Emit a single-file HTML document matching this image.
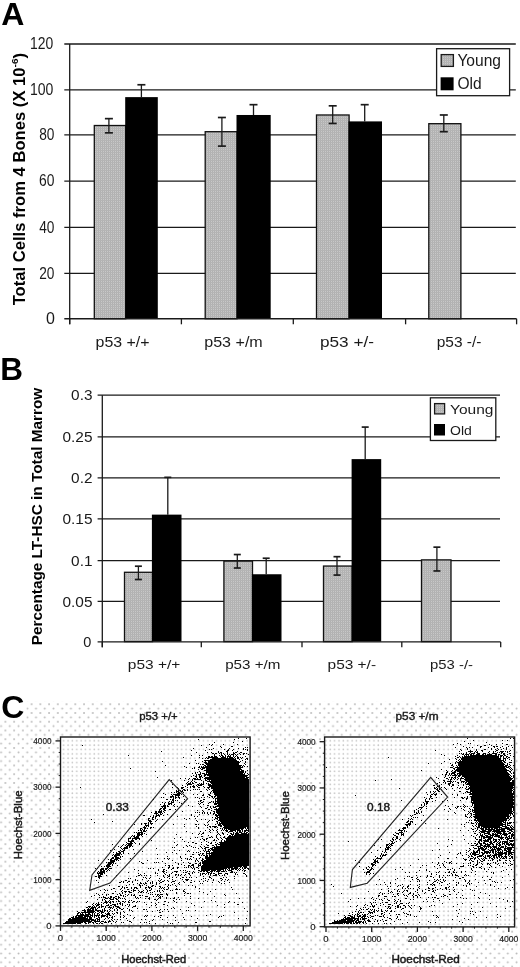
<!DOCTYPE html>
<html><head><meta charset="utf-8"><style>
html,body{margin:0;padding:0;background:#fff;overflow:hidden;}
svg{display:block;filter:blur(0.3px);font-family:"Liberation Sans", sans-serif;}
</style></head><body>
<svg width="520" height="967" viewBox="0 0 520 967">
<defs>
<pattern id="gp" width="2" height="2" patternUnits="userSpaceOnUse"><rect width="2" height="2" fill="#c8c8c8"/><rect width="1" height="2" fill="#b0b0b0"/><rect width="2" height="1" fill="#b4b4b4"/></pattern>
</defs>
<text x="1.20" y="24.80" font-size="32" text-anchor="start" font-weight="bold" fill="#000">A</text>
<text x="0.30" y="380.20" font-size="31.5" text-anchor="start" font-weight="bold" fill="#000">B</text>
<line x1="64.30" y1="273.40" x2="515.80" y2="273.40" stroke="#1a1a1a" stroke-width="1.3"/>
<line x1="64.30" y1="227.40" x2="515.80" y2="227.40" stroke="#1a1a1a" stroke-width="1.3"/>
<line x1="64.30" y1="181.10" x2="515.80" y2="181.10" stroke="#1a1a1a" stroke-width="1.3"/>
<line x1="64.30" y1="134.90" x2="515.80" y2="134.90" stroke="#1a1a1a" stroke-width="1.3"/>
<line x1="64.30" y1="89.90" x2="515.80" y2="89.90" stroke="#1a1a1a" stroke-width="1.3"/>
<line x1="64.30" y1="44.00" x2="515.80" y2="44.00" stroke="#1a1a1a" stroke-width="1.3"/>
<rect x="94.30" y="125.51" width="31.50" height="193.19" fill="url(#gp)" stroke="#111" stroke-width="1.3"/>
<rect x="125.20" y="97.12" width="32.60" height="221.58" fill="#000"/>
<rect x="205.20" y="131.69" width="31.90" height="187.01" fill="url(#gp)" stroke="#111" stroke-width="1.3"/>
<rect x="236.50" y="114.98" width="34.20" height="203.72" fill="#000"/>
<rect x="316.50" y="114.98" width="32.60" height="203.72" fill="url(#gp)" stroke="#111" stroke-width="1.3"/>
<rect x="348.50" y="121.39" width="33.50" height="197.31" fill="#000"/>
<rect x="428.80" y="123.68" width="32.10" height="195.02" fill="url(#gp)" stroke="#111" stroke-width="1.3"/>
<line x1="108.90" y1="118.64" x2="108.90" y2="132.83" stroke="#1a1a1a" stroke-width="1.3"/>
<line x1="104.90" y1="118.64" x2="112.90" y2="118.64" stroke="#1a1a1a" stroke-width="1.6900000000000002"/>
<line x1="104.90" y1="132.83" x2="112.90" y2="132.83" stroke="#1a1a1a" stroke-width="1.6900000000000002"/>
<line x1="141.40" y1="84.76" x2="141.40" y2="97.12" stroke="#1a1a1a" stroke-width="1.3"/>
<line x1="137.40" y1="84.76" x2="145.40" y2="84.76" stroke="#1a1a1a" stroke-width="1.6900000000000002"/>
<line x1="221.90" y1="117.50" x2="221.90" y2="146.11" stroke="#1a1a1a" stroke-width="1.3"/>
<line x1="217.90" y1="117.50" x2="225.90" y2="117.50" stroke="#1a1a1a" stroke-width="1.6900000000000002"/>
<line x1="217.90" y1="146.11" x2="225.90" y2="146.11" stroke="#1a1a1a" stroke-width="1.6900000000000002"/>
<line x1="253.50" y1="104.68" x2="253.50" y2="114.98" stroke="#1a1a1a" stroke-width="1.3"/>
<line x1="249.50" y1="104.68" x2="257.50" y2="104.68" stroke="#1a1a1a" stroke-width="1.6900000000000002"/>
<line x1="332.70" y1="105.82" x2="332.70" y2="123.45" stroke="#1a1a1a" stroke-width="1.3"/>
<line x1="328.70" y1="105.82" x2="336.70" y2="105.82" stroke="#1a1a1a" stroke-width="1.6900000000000002"/>
<line x1="328.70" y1="123.45" x2="336.70" y2="123.45" stroke="#1a1a1a" stroke-width="1.6900000000000002"/>
<line x1="364.70" y1="104.68" x2="364.70" y2="121.39" stroke="#1a1a1a" stroke-width="1.3"/>
<line x1="360.70" y1="104.68" x2="368.70" y2="104.68" stroke="#1a1a1a" stroke-width="1.6900000000000002"/>
<line x1="443.80" y1="114.98" x2="443.80" y2="131.69" stroke="#1a1a1a" stroke-width="1.3"/>
<line x1="439.80" y1="114.98" x2="447.80" y2="114.98" stroke="#1a1a1a" stroke-width="1.6900000000000002"/>
<line x1="439.80" y1="131.69" x2="447.80" y2="131.69" stroke="#1a1a1a" stroke-width="1.6900000000000002"/>
<line x1="69.70" y1="44.00" x2="69.70" y2="324.30" stroke="#1a1a1a" stroke-width="1.3"/>
<line x1="64.30" y1="318.75" x2="516.60" y2="318.75" stroke="#1a1a1a" stroke-width="1.3"/>
<line x1="69.70" y1="318.75" x2="69.70" y2="324.30" stroke="#1a1a1a" stroke-width="1.3"/>
<line x1="181.40" y1="318.75" x2="181.40" y2="324.30" stroke="#1a1a1a" stroke-width="1.3"/>
<line x1="293.30" y1="318.75" x2="293.30" y2="324.30" stroke="#1a1a1a" stroke-width="1.3"/>
<line x1="405.60" y1="318.75" x2="405.60" y2="324.30" stroke="#1a1a1a" stroke-width="1.3"/>
<line x1="516.60" y1="318.75" x2="516.60" y2="324.30" stroke="#1a1a1a" stroke-width="1.3"/>
<text x="55.00" y="324.11" font-size="16" text-anchor="end" font-weight="normal" fill="#1a1a1a">0</text>
<text x="54.40" y="278.76" font-size="16" text-anchor="end" font-weight="normal" fill="#1a1a1a" textLength="15.2" lengthAdjust="spacingAndGlyphs">20</text>
<text x="54.40" y="232.76" font-size="16" text-anchor="end" font-weight="normal" fill="#1a1a1a" textLength="15.2" lengthAdjust="spacingAndGlyphs">40</text>
<text x="54.40" y="186.46" font-size="16" text-anchor="end" font-weight="normal" fill="#1a1a1a" textLength="15.4" lengthAdjust="spacingAndGlyphs">60</text>
<text x="54.40" y="140.26" font-size="16" text-anchor="end" font-weight="normal" fill="#1a1a1a" textLength="15.2" lengthAdjust="spacingAndGlyphs">80</text>
<text x="53.30" y="95.26" font-size="16" text-anchor="end" font-weight="normal" fill="#1a1a1a" textLength="23.4" lengthAdjust="spacingAndGlyphs">100</text>
<text x="53.30" y="49.36" font-size="16" text-anchor="end" font-weight="normal" fill="#1a1a1a" textLength="23.2" lengthAdjust="spacingAndGlyphs">120</text>
<text x="122.60" y="347.20" font-size="15" text-anchor="middle" font-weight="normal" fill="#1a1a1a" textLength="54.0" lengthAdjust="spacingAndGlyphs">p53 +/+</text>
<text x="233.50" y="347.20" font-size="15" text-anchor="middle" font-weight="normal" fill="#1a1a1a" textLength="58.5" lengthAdjust="spacingAndGlyphs">p53 +/m</text>
<text x="347.00" y="347.20" font-size="15" text-anchor="middle" font-weight="normal" fill="#1a1a1a" textLength="54.0" lengthAdjust="spacingAndGlyphs">p53 +/-</text>
<text x="459.10" y="347.20" font-size="15" text-anchor="middle" font-weight="normal" fill="#1a1a1a" textLength="44.7" lengthAdjust="spacingAndGlyphs">p53 -/-</text>
<rect x="436.6" y="48.7" width="73" height="47" fill="#fff" stroke="#1a1a1a" stroke-width="1.3"/>
<rect x="441.2" y="54.6" width="12.2" height="11.8" fill="url(#gp)" stroke="#1a1a1a" stroke-width="1.3"/>
<rect x="440.6" y="77.3" width="13" height="13" fill="#000"/>
<text x="457.40" y="66.10" font-size="16" text-anchor="start" font-weight="normal" fill="#1a1a1a" textLength="43.6" lengthAdjust="spacingAndGlyphs">Young</text>
<text x="457.40" y="89.10" font-size="16" text-anchor="start" font-weight="normal" fill="#1a1a1a" textLength="24.2" lengthAdjust="spacingAndGlyphs">Old</text>
<text x="0" y="0" font-size="15.8" font-weight="bold" fill="#000" transform="translate(25.2 305.3) rotate(-90)" textLength="252.3" lengthAdjust="spacingAndGlyphs">Total Cells from 4 Bones (X 10<tspan font-size="9.5" dy="-7.5">-6</tspan><tspan dy="7.5">)</tspan></text>
<line x1="97.60" y1="601.40" x2="500.00" y2="601.40" stroke="#1a1a1a" stroke-width="1.3"/>
<line x1="97.60" y1="560.70" x2="500.00" y2="560.70" stroke="#1a1a1a" stroke-width="1.3"/>
<line x1="97.60" y1="518.80" x2="500.00" y2="518.80" stroke="#1a1a1a" stroke-width="1.3"/>
<line x1="97.60" y1="477.80" x2="500.00" y2="477.80" stroke="#1a1a1a" stroke-width="1.3"/>
<line x1="97.60" y1="436.90" x2="500.00" y2="436.90" stroke="#1a1a1a" stroke-width="1.3"/>
<line x1="97.60" y1="395.20" x2="500.00" y2="395.20" stroke="#1a1a1a" stroke-width="1.3"/>
<rect x="124.50" y="572.28" width="28.00" height="69.32" fill="url(#gp)" stroke="#111" stroke-width="1.3"/>
<rect x="151.90" y="514.63" width="29.60" height="126.97" fill="#000"/>
<rect x="223.90" y="561.11" width="28.60" height="80.49" fill="url(#gp)" stroke="#111" stroke-width="1.3"/>
<rect x="251.90" y="574.25" width="29.60" height="67.35" fill="#000"/>
<rect x="323.50" y="566.04" width="28.70" height="75.56" fill="url(#gp)" stroke="#111" stroke-width="1.3"/>
<rect x="351.60" y="459.11" width="29.60" height="182.49" fill="#000"/>
<rect x="421.50" y="559.88" width="29.50" height="81.72" fill="url(#gp)" stroke="#111" stroke-width="1.3"/>
<line x1="138.40" y1="566.20" x2="138.40" y2="579.51" stroke="#1a1a1a" stroke-width="1.3"/>
<line x1="134.90" y1="566.20" x2="141.90" y2="566.20" stroke="#1a1a1a" stroke-width="1.6900000000000002"/>
<line x1="134.90" y1="579.51" x2="141.90" y2="579.51" stroke="#1a1a1a" stroke-width="1.6900000000000002"/>
<line x1="167.80" y1="477.34" x2="167.80" y2="514.63" stroke="#1a1a1a" stroke-width="1.3"/>
<line x1="164.30" y1="477.34" x2="171.30" y2="477.34" stroke="#1a1a1a" stroke-width="1.6900000000000002"/>
<line x1="237.30" y1="554.54" x2="237.30" y2="568.01" stroke="#1a1a1a" stroke-width="1.3"/>
<line x1="233.80" y1="554.54" x2="240.80" y2="554.54" stroke="#1a1a1a" stroke-width="1.6900000000000002"/>
<line x1="233.80" y1="568.01" x2="240.80" y2="568.01" stroke="#1a1a1a" stroke-width="1.6900000000000002"/>
<line x1="266.20" y1="558.24" x2="266.20" y2="574.25" stroke="#1a1a1a" stroke-width="1.3"/>
<line x1="262.70" y1="558.24" x2="269.70" y2="558.24" stroke="#1a1a1a" stroke-width="1.6900000000000002"/>
<line x1="337.00" y1="556.68" x2="337.00" y2="575.07" stroke="#1a1a1a" stroke-width="1.3"/>
<line x1="333.50" y1="556.68" x2="340.50" y2="556.68" stroke="#1a1a1a" stroke-width="1.6900000000000002"/>
<line x1="333.50" y1="575.07" x2="340.50" y2="575.07" stroke="#1a1a1a" stroke-width="1.6900000000000002"/>
<line x1="365.20" y1="427.08" x2="365.20" y2="459.11" stroke="#1a1a1a" stroke-width="1.3"/>
<line x1="361.70" y1="427.08" x2="368.70" y2="427.08" stroke="#1a1a1a" stroke-width="1.6900000000000002"/>
<line x1="436.90" y1="547.15" x2="436.90" y2="570.97" stroke="#1a1a1a" stroke-width="1.3"/>
<line x1="433.40" y1="547.15" x2="440.40" y2="547.15" stroke="#1a1a1a" stroke-width="1.6900000000000002"/>
<line x1="433.40" y1="570.97" x2="440.40" y2="570.97" stroke="#1a1a1a" stroke-width="1.6900000000000002"/>
<line x1="102.30" y1="395.20" x2="102.30" y2="647.20" stroke="#1a1a1a" stroke-width="1.3"/>
<line x1="97.60" y1="641.90" x2="500.70" y2="641.90" stroke="#1a1a1a" stroke-width="1.3"/>
<line x1="102.30" y1="641.90" x2="102.30" y2="647.20" stroke="#1a1a1a" stroke-width="1.3"/>
<line x1="201.30" y1="641.90" x2="201.30" y2="647.20" stroke="#1a1a1a" stroke-width="1.3"/>
<line x1="302.00" y1="641.90" x2="302.00" y2="647.20" stroke="#1a1a1a" stroke-width="1.3"/>
<line x1="401.80" y1="641.90" x2="401.80" y2="647.20" stroke="#1a1a1a" stroke-width="1.3"/>
<line x1="500.70" y1="641.90" x2="500.70" y2="647.20" stroke="#1a1a1a" stroke-width="1.3"/>
<text x="91.30" y="647.12" font-size="14.5" text-anchor="end" font-weight="normal" fill="#1a1a1a">0</text>
<text x="92.50" y="606.62" font-size="14.5" text-anchor="end" font-weight="normal" fill="#1a1a1a" textLength="30.0" lengthAdjust="spacingAndGlyphs">0.05</text>
<text x="92.50" y="565.92" font-size="14.5" text-anchor="end" font-weight="normal" fill="#1a1a1a" textLength="21.4" lengthAdjust="spacingAndGlyphs">0.1</text>
<text x="92.50" y="524.02" font-size="14.5" text-anchor="end" font-weight="normal" fill="#1a1a1a" textLength="30.0" lengthAdjust="spacingAndGlyphs">0.15</text>
<text x="92.50" y="483.02" font-size="14.5" text-anchor="end" font-weight="normal" fill="#1a1a1a" textLength="21.4" lengthAdjust="spacingAndGlyphs">0.2</text>
<text x="92.50" y="442.12" font-size="14.5" text-anchor="end" font-weight="normal" fill="#1a1a1a" textLength="30.0" lengthAdjust="spacingAndGlyphs">0.25</text>
<text x="92.50" y="400.42" font-size="14.5" text-anchor="end" font-weight="normal" fill="#1a1a1a" textLength="21.4" lengthAdjust="spacingAndGlyphs">0.3</text>
<text x="154.10" y="668.80" font-size="13.5" text-anchor="middle" font-weight="normal" fill="#1a1a1a" textLength="52.5" lengthAdjust="spacingAndGlyphs">p53 +/+</text>
<text x="252.80" y="668.80" font-size="13.5" text-anchor="middle" font-weight="normal" fill="#1a1a1a" textLength="55.3" lengthAdjust="spacingAndGlyphs">p53 +/m</text>
<text x="351.80" y="668.80" font-size="13.5" text-anchor="middle" font-weight="normal" fill="#1a1a1a" textLength="48.5" lengthAdjust="spacingAndGlyphs">p53 +/-</text>
<text x="451.50" y="668.80" font-size="13.5" text-anchor="middle" font-weight="normal" fill="#1a1a1a" textLength="43.0" lengthAdjust="spacingAndGlyphs">p53 -/-</text>
<rect x="430.4" y="397.8" width="65.4" height="42.7" fill="#fff" stroke="#1a1a1a" stroke-width="1.3"/>
<rect x="434.6" y="403.6" width="10" height="10.3" fill="url(#gp)" stroke="#1a1a1a" stroke-width="1.3"/>
<rect x="434" y="424" width="11" height="11.5" fill="#000"/>
<text x="450.10" y="414.30" font-size="13.5" text-anchor="start" font-weight="normal" fill="#1a1a1a" textLength="43.4" lengthAdjust="spacingAndGlyphs">Young</text>
<text x="450.10" y="435.30" font-size="13.5" text-anchor="start" font-weight="normal" fill="#1a1a1a" textLength="21.8" lengthAdjust="spacingAndGlyphs">Old</text>
<text x="0" y="0" font-size="15" font-weight="bold" fill="#000" transform="translate(42.3 645.3) rotate(-90)" textLength="257.5" lengthAdjust="spacingAndGlyphs">Percentage LT-HSC in Total Marrow</text>
<defs><pattern id="dots" x="3.426" y="702.3" width="8.737" height="8.746" patternUnits="userSpaceOnUse"><circle cx="2" cy="2" r="1.0" fill="#bcbcbc"/><circle cx="6.37" cy="6.37" r="1.0" fill="#bcbcbc"/></pattern><pattern id="dots2" x="0.5" y="0.3" width="4.37" height="4.37" patternUnits="userSpaceOnUse"><circle cx="2" cy="2" r="0.85" fill="#c4c4c4"/></pattern><filter id="soft" x="-5%" y="-5%" width="110%" height="110%"><feGaussianBlur stdDeviation="0.35"/></filter></defs>
<rect x="0" y="701.5" width="520" height="266" fill="url(#dots)"/>
<rect x="0" y="699" width="26.5" height="20.5" fill="#fff"/>
<rect x="61" y="737.5" width="188.6" height="188" fill="#fff"/><rect x="61" y="737.5" width="188.6" height="188" fill="url(#dots2)"/>
<rect x="325.1" y="737.5" width="189" height="189" fill="#fff"/><rect x="325.1" y="737.5" width="189" height="189" fill="url(#dots2)"/>
<path d="M238 738.5h1M246 738.5h1M198 739.5h1M234 739.5h1M242 741.5h1M214 742.5h1M233 742.5h1M209 744.5h1M212 744.5h1M223 744.5h1M237 744.5h1M82 745.5h1M201 745.5h1M211 745.5h1M220 746.5h1M231 746.5h2M206 747.5h1M221 747.5h1M245 747.5h1M247 747.5h1M193 748.5h1M213 748.5h1M229 748.5h1M238 748.5h1M243 748.5h1M209 749.5h1M211 749.5h1M224 749.5h1M228 749.5h1M233 749.5h1M243 749.5h1M245 749.5h1M247 749.5h1M191 750.5h1M205 750.5h1M227 750.5h2M232 750.5h1M247 750.5h1M161 751.5h1M218 751.5h1M226 751.5h2M237 751.5h1M196 752.5h1M207 752.5h1M211 752.5h1M218 752.5h1M220 752.5h2M227 752.5h1M233 752.5h1M235 752.5h2M240 752.5h2M212 753.5h2M215 753.5h2M219 753.5h1M221 753.5h1M223 753.5h1M227 753.5h1M233 753.5h2M239 753.5h1M243 753.5h2M246 753.5h1M214 754.5h1M221 754.5h1M224 754.5h1M227 754.5h1M229 754.5h1M231 754.5h3M235 754.5h1M237 754.5h1M240 754.5h1M243 754.5h1M248 754.5h1M128 755.5h1M191 755.5h1M199 755.5h1M202 755.5h1M214 755.5h1M219 755.5h1M221 755.5h2M225 755.5h1M228 755.5h1M230 755.5h1M233 755.5h1M236 755.5h1M208 756.5h2M211 756.5h2M214 756.5h3M220 756.5h1M222 756.5h2M225 756.5h1M227 756.5h4M233 756.5h1M235 756.5h1M237 756.5h1M245 756.5h1M183 757.5h1M199 757.5h1M206 757.5h1M208 757.5h10M221 757.5h5M227 757.5h1M229 757.5h4M234 757.5h1M237 757.5h2M240 757.5h1M242 757.5h1M202 758.5h1M205 758.5h1M207 758.5h2M212 758.5h22M235 758.5h1M237 758.5h2M241 758.5h1M246 758.5h2M210 759.5h26M239 759.5h1M245 759.5h1M247 759.5h1M195 760.5h1M204 760.5h33M242 760.5h1M162 761.5h1M202 761.5h1M205 761.5h1M208 761.5h31M240 761.5h1M245 761.5h1M204 762.5h3M208 762.5h32M245 762.5h1M189 763.5h1M196 763.5h1M198 763.5h1M205 763.5h34M244 763.5h1M200 764.5h1M202 764.5h2M206 764.5h33M245 764.5h1M165 765.5h1M204 765.5h2M207 765.5h35M243 765.5h1M184 766.5h1M199 766.5h1M201 766.5h1M203 766.5h1M205 766.5h36M242 766.5h1M244 766.5h1M247 766.5h1M186 767.5h1M194 767.5h1M198 767.5h2M201 767.5h42M130 768.5h1M192 768.5h1M194 768.5h1M200 768.5h1M202 768.5h3M206 768.5h35M198 769.5h1M201 769.5h2M206 769.5h36M204 770.5h36M241 770.5h3M247 770.5h1M155 771.5h1M199 771.5h1M206 771.5h38M245 771.5h1M195 772.5h1M197 772.5h1M200 772.5h1M206 772.5h38M245 772.5h1M192 773.5h1M195 773.5h1M200 773.5h1M202 773.5h3M206 773.5h1M208 773.5h35M244 773.5h1M247 773.5h1M196 774.5h1M198 774.5h3M204 774.5h41M248 774.5h1M193 775.5h1M196 775.5h1M199 775.5h1M201 775.5h1M204 775.5h2M207 775.5h41M191 776.5h1M195 776.5h2M199 776.5h3M204 776.5h1M209 776.5h38M157 777.5h1M196 777.5h1M199 777.5h2M202 777.5h1M205 777.5h40M246 777.5h3M180 778.5h1M185 778.5h1M189 778.5h1M193 778.5h3M197 778.5h1M200 778.5h1M204 778.5h44M188 779.5h1M192 779.5h1M194 779.5h7M205 779.5h1M207 779.5h42M171 780.5h1M184 780.5h1M192 780.5h1M201 780.5h1M205 780.5h2M209 780.5h1M211 780.5h38M188 781.5h1M191 781.5h1M194 781.5h1M203 781.5h1M207 781.5h42M187 782.5h1M190 782.5h1M192 782.5h1M195 782.5h2M203 782.5h1M210 782.5h39M186 783.5h1M188 783.5h3M192 783.5h2M199 783.5h1M201 783.5h1M203 783.5h1M206 783.5h1M208 783.5h1M211 783.5h38M172 784.5h1M187 784.5h5M197 784.5h2M200 784.5h4M208 784.5h3M212 784.5h37M182 785.5h1M187 785.5h1M193 785.5h1M196 785.5h1M198 785.5h4M208 785.5h41M185 786.5h1M190 786.5h1M192 786.5h3M197 786.5h1M203 786.5h1M209 786.5h40M80 787.5h1M172 787.5h1M177 787.5h1M181 787.5h3M187 787.5h1M190 787.5h1M193 787.5h2M198 787.5h2M204 787.5h1M207 787.5h3M211 787.5h38M178 788.5h1M181 788.5h2M208 788.5h1M211 788.5h38M178 789.5h1M183 789.5h2M187 789.5h1M193 789.5h1M195 789.5h1M197 789.5h1M199 789.5h1M206 789.5h1M209 789.5h1M213 789.5h36M176 790.5h1M178 790.5h1M180 790.5h1M182 790.5h1M184 790.5h2M187 790.5h1M190 790.5h1M207 790.5h1M212 790.5h37M176 791.5h3M181 791.5h2M200 791.5h2M211 791.5h1M213 791.5h36M171 792.5h1M174 792.5h1M176 792.5h1M178 792.5h2M183 792.5h1M210 792.5h1M213 792.5h36M163 793.5h1M177 793.5h4M210 793.5h1M214 793.5h35M165 794.5h1M171 794.5h1M173 794.5h7M181 794.5h1M183 794.5h1M193 794.5h1M197 794.5h1M203 794.5h1M208 794.5h2M214 794.5h35M172 795.5h1M175 795.5h5M202 795.5h2M209 795.5h2M215 795.5h34M170 796.5h4M175 796.5h1M178 796.5h1M183 796.5h1M207 796.5h1M211 796.5h2M214 796.5h2M217 796.5h32M161 797.5h1M163 797.5h1M170 797.5h2M173 797.5h1M175 797.5h2M178 797.5h2M195 797.5h1M197 797.5h1M201 797.5h1M204 797.5h1M209 797.5h1M212 797.5h1M214 797.5h1M217 797.5h32M173 798.5h1M175 798.5h1M179 798.5h1M199 798.5h1M213 798.5h1M215 798.5h34M153 799.5h1M166 799.5h2M170 799.5h1M172 799.5h2M184 799.5h1M203 799.5h2M215 799.5h1M217 799.5h32M172 800.5h2M175 800.5h1M177 800.5h1M200 800.5h2M215 800.5h1M217 800.5h32M169 801.5h1M171 801.5h1M173 801.5h1M184 801.5h1M198 801.5h1M200 801.5h1M203 801.5h1M211 801.5h1M213 801.5h1M215 801.5h34M162 802.5h1M165 802.5h1M168 802.5h1M171 802.5h3M179 802.5h1M201 802.5h2M209 802.5h2M213 802.5h1M215 802.5h1M217 802.5h32M164 803.5h1M168 803.5h4M181 803.5h1M198 803.5h1M200 803.5h1M208 803.5h1M214 803.5h35M160 804.5h1M164 804.5h1M168 804.5h2M171 804.5h1M174 804.5h1M199 804.5h1M203 804.5h1M214 804.5h3M218 804.5h31M163 805.5h3M167 805.5h1M173 805.5h1M188 805.5h1M207 805.5h2M217 805.5h32M161 806.5h5M167 806.5h2M174 806.5h1M177 806.5h1M192 806.5h1M200 806.5h1M210 806.5h1M213 806.5h1M215 806.5h34M162 807.5h1M164 807.5h2M201 807.5h1M207 807.5h1M210 807.5h1M213 807.5h3M219 807.5h30M160 808.5h2M163 808.5h3M205 808.5h2M211 808.5h1M216 808.5h1M218 808.5h31M159 809.5h2M163 809.5h2M169 809.5h2M175 809.5h1M208 809.5h2M214 809.5h35M159 810.5h1M161 810.5h1M164 810.5h2M197 810.5h1M202 810.5h1M211 810.5h1M216 810.5h33M155 811.5h2M158 811.5h4M163 811.5h1M182 811.5h1M203 811.5h1M213 811.5h2M216 811.5h33M151 812.5h1M155 812.5h2M158 812.5h4M164 812.5h1M195 812.5h1M197 812.5h1M199 812.5h1M202 812.5h1M204 812.5h1M207 812.5h1M210 812.5h1M214 812.5h1M216 812.5h33M154 813.5h4M160 813.5h1M162 813.5h1M202 813.5h1M204 813.5h1M207 813.5h1M210 813.5h1M213 813.5h2M217 813.5h32M103 814.5h1M156 814.5h1M158 814.5h1M160 814.5h2M167 814.5h1M191 814.5h1M199 814.5h1M208 814.5h1M213 814.5h1M215 814.5h2M218 814.5h31M143 815.5h2M153 815.5h1M156 815.5h4M163 815.5h1M191 815.5h1M215 815.5h34M150 816.5h1M153 816.5h1M155 816.5h2M159 816.5h1M171 816.5h1M177 816.5h1M194 816.5h1M197 816.5h1M216 816.5h2M219 816.5h30M152 817.5h2M155 817.5h1M212 817.5h1M215 817.5h1M217 817.5h32M148 818.5h2M152 818.5h1M155 818.5h1M184 818.5h1M189 818.5h1M195 818.5h1M215 818.5h3M219 818.5h30M91 819.5h1M148 819.5h1M152 819.5h2M157 819.5h1M162 819.5h1M186 819.5h1M201 819.5h1M205 819.5h1M214 819.5h1M217 819.5h1M219 819.5h30M148 820.5h3M156 820.5h1M196 820.5h1M209 820.5h1M212 820.5h1M218 820.5h31M112 821.5h1M149 821.5h3M155 821.5h1M197 821.5h1M208 821.5h1M216 821.5h2M220 821.5h29M94 822.5h1M148 822.5h1M150 822.5h1M207 822.5h1M217 822.5h1M219 822.5h1M221 822.5h28M141 823.5h1M144 823.5h3M148 823.5h1M150 823.5h3M217 823.5h1M219 823.5h30M134 824.5h1M141 824.5h1M145 824.5h1M148 824.5h1M151 824.5h1M173 824.5h1M184 824.5h1M195 824.5h2M198 824.5h1M204 824.5h1M208 824.5h1M215 824.5h1M218 824.5h3M222 824.5h27M145 825.5h4M205 825.5h1M207 825.5h1M218 825.5h4M223 825.5h26M144 826.5h1M146 826.5h1M148 826.5h1M184 826.5h1M196 826.5h1M209 826.5h2M212 826.5h5M220 826.5h2M224 826.5h25M143 827.5h3M150 827.5h2M153 827.5h1M198 827.5h1M207 827.5h1M210 827.5h1M214 827.5h2M217 827.5h1M223 827.5h23M247 827.5h2M140 828.5h2M144 828.5h2M147 828.5h1M150 828.5h1M198 828.5h1M220 828.5h1M222 828.5h1M224 828.5h20M245 828.5h1M247 828.5h2M140 829.5h1M142 829.5h1M144 829.5h1M209 829.5h1M212 829.5h1M217 829.5h1M222 829.5h1M224 829.5h1M226 829.5h1M228 829.5h12M241 829.5h2M246 829.5h1M248 829.5h1M138 830.5h1M140 830.5h2M143 830.5h2M146 830.5h1M205 830.5h1M210 830.5h1M213 830.5h1M216 830.5h1M221 830.5h1M223 830.5h1M225 830.5h3M230 830.5h6M237 830.5h4M242 830.5h1M244 830.5h5M141 831.5h1M143 831.5h3M186 831.5h1M200 831.5h1M209 831.5h1M217 831.5h1M226 831.5h2M229 831.5h4M235 831.5h1M237 831.5h1M239 831.5h2M242 831.5h1M244 831.5h2M248 831.5h1M134 832.5h1M136 832.5h1M138 832.5h5M203 832.5h1M210 832.5h1M217 832.5h1M222 832.5h1M228 832.5h1M233 832.5h1M236 832.5h2M239 832.5h3M244 832.5h1M246 832.5h2M137 833.5h3M141 833.5h2M144 833.5h1M192 833.5h1M199 833.5h1M202 833.5h2M218 833.5h1M222 833.5h2M230 833.5h2M233 833.5h1M235 833.5h4M241 833.5h6M248 833.5h1M137 834.5h6M146 834.5h1M176 834.5h1M198 834.5h1M201 834.5h1M217 834.5h1M219 834.5h1M223 834.5h1M227 834.5h1M231 834.5h3M235 834.5h14M132 835.5h1M134 835.5h1M137 835.5h3M141 835.5h1M208 835.5h1M216 835.5h1M220 835.5h1M229 835.5h2M232 835.5h1M234 835.5h15M131 836.5h1M133 836.5h2M136 836.5h3M142 836.5h1M201 836.5h2M211 836.5h1M216 836.5h1M224 836.5h1M228 836.5h21M130 837.5h1M134 837.5h5M180 837.5h1M195 837.5h1M197 837.5h1M209 837.5h2M212 837.5h1M216 837.5h1M220 837.5h1M223 837.5h2M227 837.5h22M128 838.5h3M132 838.5h8M174 838.5h1M190 838.5h1M202 838.5h1M206 838.5h2M217 838.5h1M221 838.5h1M225 838.5h24M128 839.5h1M132 839.5h1M135 839.5h2M139 839.5h1M182 839.5h1M200 839.5h1M203 839.5h2M206 839.5h1M214 839.5h1M218 839.5h1M222 839.5h1M226 839.5h23M128 840.5h1M131 840.5h3M151 840.5h1M204 840.5h1M213 840.5h2M216 840.5h1M221 840.5h1M224 840.5h1M226 840.5h23M128 841.5h6M184 841.5h1M206 841.5h1M221 841.5h1M224 841.5h25M126 842.5h1M130 842.5h2M134 842.5h1M174 842.5h1M188 842.5h1M192 842.5h2M201 842.5h1M208 842.5h1M211 842.5h1M215 842.5h1M219 842.5h30M127 843.5h6M135 843.5h1M139 843.5h1M195 843.5h2M210 843.5h2M217 843.5h1M220 843.5h29M112 844.5h1M123 844.5h1M126 844.5h1M128 844.5h4M139 844.5h1M177 844.5h1M201 844.5h1M206 844.5h1M215 844.5h2M218 844.5h31M122 845.5h1M125 845.5h1M127 845.5h5M176 845.5h1M186 845.5h1M189 845.5h1M207 845.5h2M212 845.5h2M216 845.5h1M220 845.5h29M118 846.5h1M121 846.5h1M126 846.5h2M129 846.5h2M132 846.5h1M187 846.5h1M191 846.5h1M200 846.5h1M204 846.5h1M214 846.5h1M216 846.5h33M120 847.5h1M124 847.5h4M129 847.5h1M172 847.5h1M174 847.5h1M183 847.5h1M193 847.5h1M195 847.5h1M201 847.5h1M205 847.5h4M212 847.5h37M121 848.5h1M123 848.5h5M156 848.5h1M198 848.5h1M202 848.5h1M204 848.5h2M210 848.5h3M214 848.5h35M114 849.5h1M122 849.5h1M124 849.5h1M133 849.5h1M205 849.5h1M208 849.5h2M211 849.5h38M110 850.5h1M120 850.5h1M123 850.5h2M174 850.5h1M179 850.5h1M188 850.5h1M203 850.5h1M205 850.5h1M208 850.5h1M210 850.5h1M212 850.5h37M118 851.5h2M121 851.5h3M142 851.5h1M187 851.5h1M189 851.5h1M200 851.5h1M204 851.5h1M206 851.5h4M213 851.5h36M113 852.5h1M116 852.5h1M119 852.5h2M123 852.5h1M166 852.5h1M172 852.5h1M193 852.5h1M196 852.5h1M198 852.5h1M206 852.5h1M209 852.5h1M211 852.5h38M116 853.5h5M123 853.5h1M128 853.5h1M134 853.5h1M176 853.5h1M200 853.5h1M202 853.5h2M206 853.5h43M113 854.5h1M115 854.5h5M121 854.5h1M157 854.5h1M185 854.5h1M192 854.5h2M198 854.5h2M202 854.5h1M206 854.5h1M209 854.5h1M211 854.5h38M112 855.5h1M114 855.5h6M199 855.5h1M201 855.5h1M203 855.5h2M206 855.5h2M209 855.5h40M114 856.5h3M120 856.5h1M122 856.5h1M167 856.5h1M180 856.5h1M190 856.5h2M205 856.5h3M209 856.5h40M112 857.5h2M115 857.5h4M120 857.5h1M180 857.5h1M193 857.5h1M200 857.5h1M205 857.5h44M111 858.5h3M115 858.5h5M130 858.5h1M157 858.5h1M164 858.5h1M167 858.5h1M169 858.5h1M181 858.5h1M185 858.5h1M187 858.5h1M190 858.5h1M196 858.5h1M199 858.5h1M202 858.5h1M205 858.5h44M108 859.5h1M110 859.5h2M114 859.5h4M120 859.5h1M168 859.5h1M187 859.5h1M189 859.5h1M191 859.5h1M196 859.5h1M202 859.5h2M206 859.5h43M98 860.5h1M110 860.5h5M116 860.5h1M118 860.5h1M147 860.5h1M172 860.5h1M181 860.5h1M195 860.5h1M197 860.5h1M201 860.5h2M204 860.5h45M110 861.5h5M139 861.5h1M162 861.5h1M195 861.5h1M198 861.5h1M202 861.5h47M106 862.5h1M108 862.5h6M141 862.5h1M154 862.5h1M156 862.5h1M158 862.5h1M175 862.5h1M183 862.5h1M188 862.5h1M200 862.5h1M202 862.5h47M108 863.5h4M113 863.5h1M115 863.5h1M142 863.5h2M165 863.5h1M178 863.5h1M189 863.5h2M195 863.5h2M199 863.5h2M202 863.5h47M107 864.5h4M112 864.5h1M178 864.5h1M181 864.5h1M192 864.5h2M198 864.5h1M200 864.5h1M203 864.5h46M106 865.5h4M112 865.5h1M117 865.5h1M165 865.5h1M168 865.5h2M172 865.5h1M184 865.5h1M188 865.5h2M191 865.5h3M198 865.5h3M202 865.5h47M101 866.5h1M104 866.5h1M106 866.5h5M169 866.5h1M188 866.5h1M190 866.5h1M193 866.5h1M198 866.5h1M201 866.5h41M243 866.5h4M107 867.5h2M162 867.5h1M168 867.5h2M173 867.5h1M177 867.5h2M184 867.5h1M186 867.5h1M188 867.5h1M191 867.5h1M193 867.5h1M196 867.5h2M201 867.5h32M234 867.5h4M240 867.5h1M242 867.5h1M244 867.5h3M95 868.5h1M97 868.5h1M101 868.5h3M105 868.5h3M109 868.5h3M148 868.5h1M150 868.5h1M153 868.5h1M168 868.5h1M172 868.5h2M177 868.5h1M192 868.5h1M194 868.5h1M198 868.5h1M201 868.5h26M228 868.5h2M231 868.5h7M239 868.5h1M242 868.5h1M244 868.5h2M247 868.5h2M100 869.5h4M105 869.5h2M108 869.5h1M134 869.5h1M158 869.5h1M163 869.5h2M171 869.5h1M194 869.5h1M201 869.5h23M225 869.5h1M227 869.5h1M229 869.5h1M231 869.5h3M235 869.5h2M238 869.5h1M240 869.5h1M243 869.5h1M248 869.5h1M100 870.5h2M103 870.5h2M107 870.5h1M109 870.5h1M138 870.5h1M158 870.5h1M163 870.5h1M166 870.5h1M180 870.5h1M183 870.5h1M185 870.5h1M198 870.5h2M201 870.5h9M211 870.5h5M217 870.5h4M223 870.5h1M225 870.5h1M228 870.5h4M237 870.5h1M239 870.5h1M242 870.5h1M244 870.5h2M98 871.5h1M100 871.5h5M106 871.5h1M162 871.5h3M174 871.5h4M187 871.5h1M189 871.5h1M193 871.5h1M200 871.5h2M203 871.5h2M206 871.5h2M210 871.5h3M214 871.5h1M216 871.5h4M221 871.5h4M226 871.5h1M231 871.5h2M244 871.5h1M97 872.5h1M99 872.5h6M128 872.5h1M155 872.5h1M163 872.5h1M166 872.5h1M172 872.5h1M176 872.5h1M183 872.5h1M185 872.5h2M192 872.5h1M194 872.5h1M198 872.5h1M207 872.5h3M211 872.5h1M218 872.5h1M230 872.5h3M234 872.5h1M236 872.5h1M97 873.5h6M104 873.5h1M138 873.5h1M144 873.5h1M155 873.5h1M157 873.5h1M164 873.5h1M171 873.5h1M188 873.5h2M192 873.5h1M200 873.5h1M202 873.5h3M206 873.5h1M208 873.5h1M210 873.5h2M213 873.5h2M218 873.5h4M225 873.5h3M235 873.5h1M243 873.5h2M98 874.5h1M100 874.5h3M140 874.5h1M165 874.5h1M169 874.5h1M175 874.5h2M178 874.5h1M181 874.5h1M185 874.5h1M189 874.5h1M200 874.5h1M202 874.5h1M205 874.5h1M208 874.5h1M210 874.5h1M215 874.5h2M218 874.5h1M224 874.5h1M227 874.5h1M235 874.5h1M237 874.5h1M245 874.5h1M98 875.5h3M106 875.5h1M116 875.5h1M138 875.5h2M141 875.5h1M144 875.5h1M146 875.5h1M150 875.5h1M157 875.5h1M163 875.5h1M167 875.5h1M169 875.5h1M175 875.5h1M178 875.5h1M180 875.5h1M184 875.5h1M190 875.5h1M200 875.5h1M210 875.5h1M213 875.5h4M219 875.5h1M222 875.5h1M224 875.5h1M246 875.5h1M95 876.5h2M98 876.5h4M136 876.5h1M163 876.5h1M168 876.5h2M203 876.5h1M209 876.5h1M234 876.5h1M246 876.5h1M98 877.5h2M143 877.5h1M145 877.5h1M150 877.5h1M164 877.5h1M167 877.5h1M172 877.5h1M176 877.5h1M182 877.5h2M186 877.5h1M189 877.5h1M191 877.5h1M196 877.5h1M209 877.5h2M223 877.5h1M226 877.5h1M99 878.5h1M128 878.5h1M130 878.5h1M146 878.5h1M149 878.5h1M159 878.5h1M169 878.5h1M180 878.5h1M203 878.5h1M205 878.5h1M211 878.5h1M220 878.5h2M234 878.5h1M135 879.5h1M142 879.5h1M161 879.5h1M172 879.5h1M182 879.5h1M185 879.5h4M201 879.5h1M208 879.5h1M213 879.5h1M222 879.5h1M225 879.5h1M228 879.5h1M96 880.5h1M125 880.5h2M135 880.5h1M137 880.5h1M148 880.5h1M158 880.5h1M160 880.5h1M164 880.5h1M167 880.5h1M175 880.5h1M186 880.5h2M191 880.5h1M205 880.5h1M213 880.5h1M221 880.5h1M227 880.5h1M121 881.5h1M123 881.5h1M128 881.5h2M132 881.5h1M147 881.5h1M152 881.5h1M159 881.5h1M162 881.5h2M168 881.5h1M172 881.5h3M183 881.5h1M194 881.5h1M199 881.5h1M203 881.5h1M207 881.5h1M218 881.5h1M224 881.5h1M98 882.5h1M119 882.5h2M123 882.5h1M127 882.5h1M132 882.5h1M140 882.5h1M145 882.5h1M150 882.5h1M152 882.5h1M156 882.5h1M160 882.5h2M171 882.5h1M179 882.5h1M184 882.5h1M190 882.5h2M212 882.5h1M219 882.5h1M229 882.5h1M137 883.5h1M140 883.5h2M143 883.5h1M145 883.5h2M150 883.5h1M152 883.5h1M156 883.5h1M159 883.5h1M174 883.5h1M178 883.5h1M200 883.5h1M202 883.5h1M221 883.5h1M224 883.5h1M129 884.5h1M133 884.5h1M139 884.5h1M144 884.5h1M156 884.5h1M165 884.5h1M168 884.5h1M172 884.5h1M179 884.5h1M109 885.5h1M126 885.5h1M139 885.5h2M142 885.5h1M146 885.5h1M152 885.5h2M168 885.5h1M170 885.5h1M175 885.5h1M188 885.5h1M192 885.5h1M118 886.5h2M122 886.5h1M140 886.5h1M148 886.5h1M151 886.5h2M155 886.5h1M159 886.5h2M167 886.5h1M176 886.5h1M195 886.5h1M122 887.5h1M124 887.5h1M126 887.5h2M131 887.5h1M134 887.5h3M140 887.5h1M145 887.5h2M148 887.5h3M160 887.5h1M162 887.5h1M164 887.5h1M168 887.5h1M195 887.5h1M231 887.5h1M113 888.5h2M121 888.5h1M124 888.5h1M131 888.5h1M134 888.5h1M136 888.5h2M145 888.5h1M149 888.5h1M151 888.5h1M159 888.5h1M161 888.5h1M163 888.5h1M168 888.5h1M176 888.5h1M199 888.5h1M104 889.5h1M111 889.5h1M120 889.5h1M127 889.5h2M133 889.5h1M146 889.5h1M151 889.5h1M164 889.5h1M166 889.5h2M175 889.5h3M179 889.5h1M184 889.5h1M215 889.5h1M232 889.5h1M100 890.5h1M105 890.5h1M107 890.5h1M122 890.5h1M131 890.5h1M133 890.5h3M138 890.5h1M143 890.5h1M147 890.5h1M149 890.5h2M157 890.5h1M159 890.5h1M162 890.5h1M170 890.5h1M172 890.5h1M183 890.5h1M115 891.5h1M121 891.5h1M124 891.5h3M128 891.5h2M133 891.5h1M139 891.5h1M141 891.5h2M147 891.5h1M154 891.5h1M157 891.5h1M159 891.5h1M163 891.5h1M183 891.5h2M199 891.5h1M210 891.5h1M104 892.5h1M122 892.5h1M125 892.5h1M129 892.5h3M138 892.5h1M140 892.5h2M143 892.5h1M146 892.5h1M150 892.5h1M152 892.5h1M160 892.5h1M176 892.5h1M185 892.5h1M203 892.5h1M96 893.5h1M112 893.5h2M119 893.5h1M122 893.5h1M148 893.5h1M166 893.5h1M176 893.5h1M184 893.5h1M187 893.5h2M190 893.5h1M236 893.5h1M98 894.5h1M102 894.5h1M106 894.5h1M108 894.5h1M117 894.5h1M120 894.5h1M125 894.5h1M128 894.5h1M131 894.5h1M134 894.5h1M150 894.5h1M152 894.5h1M155 894.5h1M157 894.5h2M160 894.5h3M166 894.5h2M207 894.5h1M224 894.5h1M94 895.5h1M99 895.5h1M106 895.5h1M120 895.5h2M123 895.5h1M127 895.5h1M131 895.5h1M133 895.5h2M139 895.5h2M142 895.5h1M157 895.5h1M159 895.5h1M167 895.5h1M184 895.5h1M225 895.5h1M91 896.5h1M103 896.5h1M110 896.5h2M115 896.5h2M118 896.5h1M123 896.5h1M125 896.5h1M135 896.5h1M145 896.5h3M153 896.5h1M156 896.5h1M158 896.5h1M160 896.5h1M162 896.5h1M190 896.5h1M214 896.5h1M99 897.5h1M101 897.5h1M103 897.5h3M108 897.5h1M110 897.5h2M113 897.5h2M118 897.5h2M135 897.5h1M137 897.5h1M140 897.5h1M149 897.5h1M159 897.5h2M166 897.5h1M174 897.5h1M178 897.5h1M105 898.5h3M109 898.5h2M113 898.5h1M115 898.5h2M118 898.5h1M120 898.5h1M122 898.5h1M124 898.5h1M136 898.5h1M138 898.5h1M145 898.5h1M148 898.5h2M158 898.5h1M160 898.5h1M166 898.5h1M170 898.5h1M173 898.5h2M190 898.5h1M198 898.5h1M239 898.5h1M97 899.5h1M102 899.5h1M104 899.5h1M110 899.5h4M116 899.5h2M125 899.5h1M149 899.5h1M154 899.5h2M157 899.5h1M176 899.5h1M179 899.5h1M102 900.5h1M105 900.5h1M109 900.5h1M118 900.5h1M129 900.5h1M131 900.5h1M156 900.5h1M173 900.5h1M211 900.5h1M87 901.5h1M105 901.5h2M108 901.5h1M110 901.5h1M112 901.5h2M116 901.5h1M118 901.5h2M122 901.5h2M125 901.5h1M128 901.5h1M133 901.5h2M137 901.5h1M139 901.5h1M164 901.5h2M174 901.5h1M186 901.5h1M204 901.5h1M215 901.5h1M229 901.5h1M86 902.5h1M98 902.5h1M101 902.5h1M104 902.5h4M109 902.5h2M113 902.5h1M120 902.5h1M124 902.5h1M128 902.5h2M132 902.5h1M136 902.5h1M144 902.5h1M151 902.5h1M158 902.5h1M168 902.5h1M176 902.5h1M228 902.5h1M234 902.5h1M242 902.5h1M93 903.5h1M96 903.5h1M98 903.5h1M103 903.5h1M106 903.5h1M110 903.5h1M117 903.5h1M119 903.5h2M122 903.5h1M155 903.5h1M191 903.5h1M92 904.5h1M95 904.5h1M97 904.5h3M101 904.5h1M108 904.5h1M112 904.5h4M117 904.5h1M120 904.5h1M122 904.5h1M127 904.5h1M129 904.5h1M146 904.5h1M156 904.5h1M163 904.5h2M224 904.5h1M237 904.5h2M93 905.5h1M96 905.5h3M101 905.5h1M106 905.5h3M110 905.5h2M114 905.5h2M122 905.5h1M125 905.5h1M129 905.5h1M135 905.5h1M151 905.5h1M155 905.5h1M167 905.5h1M194 905.5h1M217 905.5h1M88 906.5h3M92 906.5h1M94 906.5h1M96 906.5h1M99 906.5h1M101 906.5h3M105 906.5h1M109 906.5h1M113 906.5h1M115 906.5h4M128 906.5h1M133 906.5h3M86 907.5h2M89 907.5h1M91 907.5h5M98 907.5h2M101 907.5h1M105 907.5h1M108 907.5h4M113 907.5h1M117 907.5h3M132 907.5h1M149 907.5h1M156 907.5h1M173 907.5h1M188 907.5h1M201 907.5h1M224 907.5h1M88 908.5h1M90 908.5h4M95 908.5h1M97 908.5h1M104 908.5h1M110 908.5h1M112 908.5h1M116 908.5h1M119 908.5h2M123 908.5h1M127 908.5h1M137 908.5h1M171 908.5h1M174 908.5h1M244 908.5h1M84 909.5h1M87 909.5h4M92 909.5h2M95 909.5h2M102 909.5h1M104 909.5h1M109 909.5h1M114 909.5h1M117 909.5h1M121 909.5h2M129 909.5h1M143 909.5h2M146 909.5h1M160 909.5h1M164 909.5h1M167 909.5h1M180 909.5h1M82 910.5h4M87 910.5h7M95 910.5h6M102 910.5h1M104 910.5h2M107 910.5h1M110 910.5h1M114 910.5h1M117 910.5h1M129 910.5h1M131 910.5h1M157 910.5h1M159 910.5h1M186 910.5h1M188 910.5h1M195 910.5h1M77 911.5h1M84 911.5h2M87 911.5h8M97 911.5h2M100 911.5h3M104 911.5h1M107 911.5h1M109 911.5h1M112 911.5h1M123 911.5h1M132 911.5h1M147 911.5h1M152 911.5h1M162 911.5h1M168 911.5h1M247 911.5h1M78 912.5h2M81 912.5h13M95 912.5h1M99 912.5h1M101 912.5h3M108 912.5h1M116 912.5h2M120 912.5h1M124 912.5h1M159 912.5h2M234 912.5h1M77 913.5h2M80 913.5h1M82 913.5h1M85 913.5h1M88 913.5h2M92 913.5h1M94 913.5h1M97 913.5h2M101 913.5h1M105 913.5h1M107 913.5h3M112 913.5h1M114 913.5h1M117 913.5h1M120 913.5h1M182 913.5h1M77 914.5h1M80 914.5h4M85 914.5h6M92 914.5h1M94 914.5h1M97 914.5h1M99 914.5h1M102 914.5h1M106 914.5h4M113 914.5h1M120 914.5h1M127 914.5h1M210 914.5h1M76 915.5h13M90 915.5h3M94 915.5h6M101 915.5h5M107 915.5h1M109 915.5h2M123 915.5h1M130 915.5h1M145 915.5h1M147 915.5h1M160 915.5h2M173 915.5h1M206 915.5h1M223 915.5h1M73 916.5h1M75 916.5h2M78 916.5h5M84 916.5h7M92 916.5h1M94 916.5h1M96 916.5h1M98 916.5h1M101 916.5h4M106 916.5h2M112 916.5h1M114 916.5h1M120 916.5h1M124 916.5h1M144 916.5h1M146 916.5h1M154 916.5h1M158 916.5h1M191 916.5h1M219 916.5h1M221 916.5h1M71 917.5h3M75 917.5h11M87 917.5h1M89 917.5h3M94 917.5h1M98 917.5h2M101 917.5h1M107 917.5h1M109 917.5h1M111 917.5h2M120 917.5h1M123 917.5h1M134 917.5h1M160 917.5h1M167 917.5h1M175 917.5h1M183 917.5h1M218 917.5h1M69 918.5h2M72 918.5h16M89 918.5h3M96 918.5h2M99 918.5h1M105 918.5h1M108 918.5h1M112 918.5h1M126 918.5h1M133 918.5h1M197 918.5h1M238 918.5h1M246 918.5h1M68 919.5h26M95 919.5h1M97 919.5h3M104 919.5h1M111 919.5h1M114 919.5h1M117 919.5h1M120 919.5h1M141 919.5h1M145 919.5h1M153 919.5h1M162 919.5h1M184 919.5h1M68 920.5h22M91 920.5h5M97 920.5h1M99 920.5h1M109 920.5h1M112 920.5h1M127 920.5h1M152 920.5h1M175 920.5h1M66 921.5h26M94 921.5h6M101 921.5h3M105 921.5h1M108 921.5h3M113 921.5h1M116 921.5h1M129 921.5h2M149 921.5h1M209 921.5h2M65 922.5h18M84 922.5h2M88 922.5h3M92 922.5h2M95 922.5h1M100 922.5h1M104 922.5h3M108 922.5h1M115 922.5h1M121 922.5h1M123 922.5h1M131 922.5h1M140 922.5h1M144 922.5h1M146 922.5h1M167 922.5h1M178 922.5h1M195 922.5h2M63 923.5h13M77 923.5h4M85 923.5h2M88 923.5h1M93 923.5h1M96 923.5h2M99 923.5h1M101 923.5h2M111 923.5h1M149 923.5h1M155 923.5h1M170 923.5h1M172 923.5h1M245 923.5h1" stroke="#000" stroke-width="1" fill="none" filter="url(#soft)"/>
<rect x="60.5" y="737" width="189.6" height="188.9" fill="none" stroke="#1a1a1a" stroke-width="1.4"/>
<line x1="55.50" y1="925.90" x2="60.50" y2="925.90" stroke="#1a1a1a" stroke-width="1.3"/>
<text x="51.50" y="929.20" font-size="9.5" text-anchor="end" font-weight="normal" fill="#1a1a1a" stroke="#1a1a1a" stroke-width="0.2">0</text>
<line x1="60.50" y1="925.90" x2="60.50" y2="930.90" stroke="#1a1a1a" stroke-width="1.3"/>
<text x="60.50" y="941.10" font-size="9.5" text-anchor="middle" font-weight="normal" fill="#1a1a1a" stroke="#1a1a1a" stroke-width="0.2">0</text>
<line x1="58.70" y1="914.34" x2="60.50" y2="914.34" stroke="#1a1a1a" stroke-width="1.0"/>
<line x1="71.92" y1="925.90" x2="71.92" y2="927.70" stroke="#1a1a1a" stroke-width="1.0"/>
<line x1="58.70" y1="902.77" x2="60.50" y2="902.77" stroke="#1a1a1a" stroke-width="1.0"/>
<line x1="83.35" y1="925.90" x2="83.35" y2="927.70" stroke="#1a1a1a" stroke-width="1.0"/>
<line x1="58.70" y1="891.21" x2="60.50" y2="891.21" stroke="#1a1a1a" stroke-width="1.0"/>
<line x1="94.78" y1="925.90" x2="94.78" y2="927.70" stroke="#1a1a1a" stroke-width="1.0"/>
<line x1="55.50" y1="879.65" x2="60.50" y2="879.65" stroke="#1a1a1a" stroke-width="1.3"/>
<text x="51.50" y="882.95" font-size="9.5" text-anchor="end" font-weight="normal" fill="#1a1a1a" textLength="18.2" lengthAdjust="spacingAndGlyphs" stroke="#1a1a1a" stroke-width="0.2">1000</text>
<line x1="106.20" y1="925.90" x2="106.20" y2="930.90" stroke="#1a1a1a" stroke-width="1.3"/>
<text x="106.20" y="941.10" font-size="9.5" text-anchor="middle" font-weight="normal" fill="#1a1a1a" textLength="19.2" lengthAdjust="spacingAndGlyphs" stroke="#1a1a1a" stroke-width="0.2">1000</text>
<line x1="58.70" y1="868.09" x2="60.50" y2="868.09" stroke="#1a1a1a" stroke-width="1.0"/>
<line x1="117.62" y1="925.90" x2="117.62" y2="927.70" stroke="#1a1a1a" stroke-width="1.0"/>
<line x1="58.70" y1="856.52" x2="60.50" y2="856.52" stroke="#1a1a1a" stroke-width="1.0"/>
<line x1="129.05" y1="925.90" x2="129.05" y2="927.70" stroke="#1a1a1a" stroke-width="1.0"/>
<line x1="58.70" y1="844.96" x2="60.50" y2="844.96" stroke="#1a1a1a" stroke-width="1.0"/>
<line x1="140.47" y1="925.90" x2="140.47" y2="927.70" stroke="#1a1a1a" stroke-width="1.0"/>
<line x1="55.50" y1="833.40" x2="60.50" y2="833.40" stroke="#1a1a1a" stroke-width="1.3"/>
<text x="51.50" y="836.70" font-size="9.5" text-anchor="end" font-weight="normal" fill="#1a1a1a" textLength="18.2" lengthAdjust="spacingAndGlyphs" stroke="#1a1a1a" stroke-width="0.2">2000</text>
<line x1="151.90" y1="925.90" x2="151.90" y2="930.90" stroke="#1a1a1a" stroke-width="1.3"/>
<text x="151.90" y="941.10" font-size="9.5" text-anchor="middle" font-weight="normal" fill="#1a1a1a" textLength="19.2" lengthAdjust="spacingAndGlyphs" stroke="#1a1a1a" stroke-width="0.2">2000</text>
<line x1="58.70" y1="821.84" x2="60.50" y2="821.84" stroke="#1a1a1a" stroke-width="1.0"/>
<line x1="163.32" y1="925.90" x2="163.32" y2="927.70" stroke="#1a1a1a" stroke-width="1.0"/>
<line x1="58.70" y1="810.27" x2="60.50" y2="810.27" stroke="#1a1a1a" stroke-width="1.0"/>
<line x1="174.75" y1="925.90" x2="174.75" y2="927.70" stroke="#1a1a1a" stroke-width="1.0"/>
<line x1="58.70" y1="798.71" x2="60.50" y2="798.71" stroke="#1a1a1a" stroke-width="1.0"/>
<line x1="186.18" y1="925.90" x2="186.18" y2="927.70" stroke="#1a1a1a" stroke-width="1.0"/>
<line x1="55.50" y1="787.15" x2="60.50" y2="787.15" stroke="#1a1a1a" stroke-width="1.3"/>
<text x="51.50" y="790.45" font-size="9.5" text-anchor="end" font-weight="normal" fill="#1a1a1a" textLength="18.2" lengthAdjust="spacingAndGlyphs" stroke="#1a1a1a" stroke-width="0.2">3000</text>
<line x1="197.60" y1="925.90" x2="197.60" y2="930.90" stroke="#1a1a1a" stroke-width="1.3"/>
<text x="197.60" y="941.10" font-size="9.5" text-anchor="middle" font-weight="normal" fill="#1a1a1a" textLength="19.2" lengthAdjust="spacingAndGlyphs" stroke="#1a1a1a" stroke-width="0.2">3000</text>
<line x1="58.70" y1="775.59" x2="60.50" y2="775.59" stroke="#1a1a1a" stroke-width="1.0"/>
<line x1="209.03" y1="925.90" x2="209.03" y2="927.70" stroke="#1a1a1a" stroke-width="1.0"/>
<line x1="58.70" y1="764.02" x2="60.50" y2="764.02" stroke="#1a1a1a" stroke-width="1.0"/>
<line x1="220.45" y1="925.90" x2="220.45" y2="927.70" stroke="#1a1a1a" stroke-width="1.0"/>
<line x1="58.70" y1="752.46" x2="60.50" y2="752.46" stroke="#1a1a1a" stroke-width="1.0"/>
<line x1="231.88" y1="925.90" x2="231.88" y2="927.70" stroke="#1a1a1a" stroke-width="1.0"/>
<line x1="55.50" y1="740.90" x2="60.50" y2="740.90" stroke="#1a1a1a" stroke-width="1.3"/>
<text x="51.50" y="744.20" font-size="9.5" text-anchor="end" font-weight="normal" fill="#1a1a1a" textLength="18.2" lengthAdjust="spacingAndGlyphs" stroke="#1a1a1a" stroke-width="0.2">4000</text>
<line x1="243.30" y1="925.90" x2="243.30" y2="930.90" stroke="#1a1a1a" stroke-width="1.3"/>
<text x="243.30" y="941.10" font-size="9.5" text-anchor="middle" font-weight="normal" fill="#1a1a1a" textLength="19.2" lengthAdjust="spacingAndGlyphs" stroke="#1a1a1a" stroke-width="0.2">4000</text>
<polygon points="89.7,890.3 92.0,875.0 169.2,779.7 187.6,798.7 110.0,883.0" fill="none" stroke="#222" stroke-width="1.1"/>
<text x="117.30" y="810.60" font-size="11.5" text-anchor="middle" font-weight="normal" fill="#1a1a1a" textLength="23.0" lengthAdjust="spacingAndGlyphs" stroke="#1a1a1a" stroke-width="0.45">0.33</text>
<text x="158.50" y="720.40" font-size="11" text-anchor="middle" font-weight="normal" fill="#1a1a1a" textLength="38.5" lengthAdjust="spacingAndGlyphs" stroke="#1a1a1a" stroke-width="0.4">p53 +/+</text>
<text x="153.70" y="963.20" font-size="11" text-anchor="middle" font-weight="normal" fill="#1a1a1a" textLength="65.0" lengthAdjust="spacingAndGlyphs" stroke="#1a1a1a" stroke-width="0.45">Hoechst-Red</text>
<text x="0" y="0" font-size="11" text-anchor="middle" fill="#1a1a1a" stroke="#1a1a1a" stroke-width="0.45" textLength="69" lengthAdjust="spacingAndGlyphs" transform="translate(22 824.8) rotate(-90)">Hoechst-Blue</text>
<path d="M467 738.5h1M510 738.5h1M513 738.5h1M473 740.5h1M502 740.5h1M507 740.5h1M464 741.5h1M486 742.5h1M457 743.5h1M468 743.5h1M470 743.5h1M502 743.5h1M453 744.5h1M460 744.5h1M489 744.5h1M496 744.5h1M506 744.5h2M477 745.5h1M484 745.5h2M491 745.5h1M511 745.5h1M463 746.5h1M480 746.5h2M493 746.5h2M496 746.5h2M502 746.5h1M508 746.5h1M455 747.5h1M466 747.5h1M469 747.5h1M472 747.5h1M480 747.5h1M488 747.5h1M494 747.5h1M500 747.5h1M506 747.5h1M512 747.5h1M467 748.5h1M491 748.5h1M497 748.5h1M503 748.5h1M506 748.5h1M460 749.5h1M467 749.5h1M476 749.5h1M484 749.5h2M491 749.5h1M495 749.5h1M498 749.5h1M501 749.5h1M506 749.5h1M435 750.5h1M461 750.5h1M470 750.5h1M476 750.5h1M481 750.5h2M496 750.5h2M510 750.5h1M459 751.5h1M468 751.5h5M475 751.5h1M477 751.5h1M482 751.5h1M489 751.5h1M493 751.5h1M495 751.5h1M500 751.5h4M505 751.5h1M507 751.5h1M509 751.5h1M466 752.5h1M470 752.5h1M474 752.5h1M476 752.5h2M488 752.5h1M493 752.5h1M497 752.5h1M499 752.5h1M501 752.5h2M507 752.5h1M459 753.5h1M461 753.5h1M463 753.5h1M466 753.5h1M469 753.5h1M471 753.5h4M477 753.5h3M483 753.5h3M489 753.5h1M492 753.5h5M501 753.5h1M503 753.5h2M509 753.5h2M441 754.5h1M462 754.5h2M465 754.5h4M470 754.5h2M473 754.5h1M476 754.5h4M482 754.5h2M485 754.5h1M487 754.5h5M495 754.5h2M498 754.5h2M503 754.5h2M507 754.5h1M444 755.5h1M457 755.5h1M464 755.5h1M466 755.5h1M468 755.5h1M470 755.5h27M498 755.5h1M500 755.5h3M504 755.5h2M510 755.5h1M455 756.5h1M459 756.5h1M462 756.5h1M464 756.5h35M500 756.5h2M503 756.5h1M506 756.5h2M513 756.5h1M388 757.5h1M457 757.5h2M460 757.5h1M462 757.5h37M500 757.5h1M503 757.5h1M506 757.5h1M508 757.5h2M455 758.5h1M461 758.5h40M503 758.5h3M507 758.5h1M449 759.5h1M456 759.5h1M459 759.5h1M461 759.5h40M503 759.5h1M505 759.5h1M509 759.5h1M458 760.5h1M460 760.5h1M462 760.5h42M505 760.5h1M511 760.5h1M444 761.5h1M456 761.5h1M459 761.5h43M503 761.5h2M455 762.5h1M457 762.5h46M504 762.5h2M509 762.5h3M428 763.5h1M441 763.5h1M450 763.5h1M455 763.5h1M458 763.5h46M507 763.5h1M452 764.5h1M458 764.5h47M507 764.5h1M509 764.5h1M451 765.5h2M456 765.5h1M458 765.5h46M505 765.5h3M510 765.5h1M513 765.5h1M453 766.5h1M457 766.5h1M459 766.5h48M508 766.5h2M326 767.5h1M450 767.5h3M455 767.5h50M506 767.5h3M510 767.5h1M453 768.5h2M457 768.5h49M509 768.5h1M511 768.5h1M441 769.5h1M454 769.5h1M456 769.5h51M510 769.5h1M512 769.5h1M421 770.5h1M446 770.5h1M452 770.5h1M455 770.5h54M511 770.5h1M447 771.5h1M451 771.5h1M454 771.5h2M457 771.5h50M509 771.5h2M446 772.5h2M452 772.5h4M459 772.5h49M510 772.5h1M513 772.5h1M446 773.5h1M449 773.5h1M451 773.5h4M457 773.5h52M511 773.5h1M513 773.5h1M442 774.5h1M445 774.5h2M449 774.5h1M451 774.5h1M454 774.5h2M457 774.5h1M459 774.5h51M445 775.5h1M448 775.5h1M450 775.5h1M452 775.5h5M458 775.5h3M462 775.5h47M510 775.5h1M513 775.5h1M445 776.5h1M455 776.5h1M458 776.5h2M462 776.5h48M511 776.5h1M513 776.5h1M436 777.5h1M444 777.5h1M449 777.5h1M451 777.5h2M454 777.5h2M457 777.5h1M461 777.5h1M464 777.5h47M513 777.5h1M438 778.5h1M446 778.5h2M451 778.5h1M453 778.5h1M455 778.5h1M458 778.5h1M460 778.5h4M465 778.5h48M391 779.5h1M448 779.5h1M450 779.5h2M454 779.5h1M457 779.5h1M460 779.5h1M464 779.5h48M375 780.5h1M443 780.5h2M450 780.5h1M460 780.5h1M465 780.5h46M512 780.5h2M444 781.5h1M447 781.5h5M453 781.5h1M455 781.5h1M461 781.5h4M466 781.5h44M512 781.5h2M439 782.5h1M443 782.5h1M445 782.5h1M450 782.5h1M452 782.5h1M457 782.5h2M461 782.5h1M463 782.5h1M465 782.5h2M468 782.5h46M437 783.5h1M445 783.5h1M448 783.5h3M458 783.5h1M465 783.5h1M467 783.5h47M424 784.5h1M441 784.5h1M448 784.5h2M452 784.5h2M463 784.5h1M466 784.5h48M433 785.5h2M439 785.5h1M449 785.5h1M452 785.5h2M458 785.5h1M463 785.5h1M469 785.5h45M437 786.5h1M439 786.5h1M451 786.5h1M466 786.5h1M468 786.5h1M470 786.5h43M434 787.5h1M436 787.5h1M441 787.5h1M444 787.5h1M457 787.5h1M460 787.5h1M462 787.5h1M466 787.5h1M469 787.5h45M399 788.5h1M434 788.5h2M437 788.5h1M439 788.5h1M445 788.5h1M452 788.5h1M459 788.5h1M465 788.5h1M468 788.5h45M436 789.5h2M439 789.5h1M441 789.5h1M446 789.5h1M466 789.5h3M470 789.5h42M513 789.5h1M437 790.5h2M454 790.5h1M470 790.5h43M430 791.5h1M433 791.5h1M435 791.5h1M438 791.5h2M459 791.5h2M466 791.5h2M470 791.5h42M513 791.5h1M426 792.5h1M430 792.5h1M434 792.5h1M465 792.5h1M467 792.5h4M472 792.5h40M513 792.5h1M433 793.5h1M436 793.5h1M463 793.5h1M470 793.5h44M427 794.5h1M431 794.5h2M434 794.5h3M441 794.5h1M452 794.5h1M457 794.5h1M469 794.5h45M355 795.5h1M430 795.5h1M435 795.5h1M457 795.5h1M472 795.5h41M430 796.5h2M467 796.5h1M470 796.5h44M424 797.5h1M430 797.5h1M436 797.5h1M454 797.5h1M461 797.5h2M464 797.5h1M467 797.5h1M471 797.5h43M426 798.5h1M429 798.5h1M431 798.5h2M462 798.5h2M466 798.5h2M471 798.5h42M425 799.5h1M429 799.5h1M466 799.5h1M471 799.5h43M401 800.5h1M425 800.5h1M435 800.5h1M447 800.5h1M460 800.5h1M471 800.5h43M425 801.5h4M432 801.5h1M442 801.5h1M471 801.5h1M473 801.5h40M423 802.5h1M426 802.5h2M471 802.5h43M424 803.5h1M426 803.5h2M472 803.5h42M421 804.5h1M424 804.5h1M426 804.5h1M452 804.5h1M463 804.5h1M472 804.5h1M474 804.5h40M421 805.5h1M424 805.5h1M445 805.5h1M464 805.5h1M472 805.5h1M474 805.5h39M423 806.5h1M426 806.5h1M448 806.5h1M457 806.5h2M460 806.5h1M463 806.5h1M465 806.5h1M467 806.5h1M471 806.5h1M474 806.5h40M419 807.5h4M455 807.5h1M457 807.5h1M464 807.5h1M473 807.5h41M418 808.5h1M421 808.5h1M426 808.5h1M449 808.5h1M456 808.5h1M461 808.5h1M469 808.5h1M474 808.5h38M513 808.5h1M416 809.5h1M420 809.5h1M444 809.5h1M450 809.5h1M463 809.5h1M470 809.5h1M472 809.5h1M474 809.5h38M513 809.5h1M414 810.5h1M418 810.5h1M464 810.5h1M472 810.5h40M513 810.5h1M414 811.5h1M418 811.5h1M421 811.5h1M448 811.5h1M468 811.5h1M470 811.5h1M472 811.5h1M474 811.5h39M414 812.5h1M416 812.5h1M418 812.5h1M421 812.5h1M454 812.5h1M469 812.5h1M473 812.5h39M513 812.5h1M416 813.5h2M419 813.5h1M455 813.5h1M468 813.5h1M470 813.5h2M475 813.5h38M414 814.5h2M465 814.5h1M467 814.5h1M471 814.5h1M473 814.5h36M510 814.5h1M512 814.5h1M410 815.5h1M412 815.5h1M423 815.5h1M465 815.5h1M471 815.5h1M475 815.5h34M510 815.5h1M513 815.5h1M411 816.5h1M465 816.5h2M470 816.5h1M473 816.5h37M513 816.5h1M413 817.5h1M415 817.5h1M417 817.5h1M467 817.5h1M469 817.5h1M471 817.5h1M474 817.5h32M507 817.5h2M510 817.5h2M408 818.5h1M411 818.5h1M475 818.5h34M510 818.5h1M402 819.5h1M410 819.5h1M412 819.5h1M447 819.5h1M474 819.5h2M477 819.5h30M509 819.5h1M408 820.5h1M421 820.5h1M469 820.5h1M471 820.5h1M474 820.5h33M508 820.5h1M407 821.5h2M410 821.5h3M476 821.5h1M478 821.5h26M505 821.5h1M406 822.5h2M410 822.5h1M412 822.5h1M466 822.5h1M468 822.5h1M471 822.5h1M475 822.5h1M477 822.5h1M479 822.5h23M503 822.5h3M507 822.5h1M509 822.5h3M513 822.5h1M408 823.5h3M425 823.5h1M471 823.5h3M476 823.5h1M478 823.5h25M505 823.5h1M507 823.5h4M405 824.5h6M415 824.5h1M461 824.5h1M464 824.5h1M476 824.5h1M478 824.5h28M507 824.5h1M406 825.5h2M409 825.5h1M472 825.5h1M475 825.5h1M478 825.5h25M505 825.5h1M507 825.5h3M511 825.5h1M407 826.5h1M464 826.5h1M473 826.5h1M476 826.5h1M478 826.5h2M481 826.5h19M502 826.5h5M510 826.5h1M512 826.5h1M403 827.5h3M407 827.5h1M477 827.5h3M481 827.5h1M483 827.5h19M505 827.5h4M510 827.5h2M513 827.5h1M402 828.5h4M438 828.5h1M471 828.5h1M475 828.5h1M477 828.5h1M480 828.5h4M485 828.5h2M488 828.5h2M491 828.5h2M494 828.5h4M499 828.5h1M501 828.5h9M511 828.5h2M399 829.5h1M403 829.5h1M472 829.5h2M477 829.5h1M481 829.5h3M485 829.5h10M496 829.5h9M507 829.5h7M398 830.5h5M404 830.5h1M460 830.5h1M468 830.5h1M476 830.5h1M479 830.5h1M482 830.5h4M488 830.5h4M493 830.5h7M501 830.5h4M509 830.5h3M401 831.5h1M404 831.5h1M406 831.5h1M473 831.5h1M475 831.5h1M480 831.5h11M492 831.5h14M507 831.5h2M511 831.5h2M395 832.5h1M399 832.5h4M479 832.5h1M481 832.5h4M487 832.5h3M494 832.5h1M496 832.5h5M503 832.5h2M509 832.5h2M513 832.5h1M396 833.5h3M401 833.5h1M403 833.5h1M474 833.5h2M480 833.5h1M484 833.5h6M492 833.5h2M495 833.5h1M497 833.5h5M503 833.5h4M508 833.5h3M512 833.5h1M393 834.5h1M398 834.5h1M401 834.5h3M477 834.5h1M480 834.5h1M482 834.5h1M484 834.5h1M488 834.5h3M492 834.5h6M500 834.5h1M502 834.5h6M511 834.5h3M394 835.5h2M401 835.5h1M403 835.5h1M463 835.5h1M471 835.5h1M476 835.5h1M480 835.5h3M485 835.5h3M490 835.5h4M495 835.5h5M501 835.5h1M504 835.5h3M509 835.5h1M511 835.5h3M396 836.5h2M473 836.5h1M479 836.5h1M481 836.5h4M486 836.5h5M492 836.5h1M494 836.5h6M501 836.5h1M506 836.5h1M508 836.5h2M511 836.5h2M393 837.5h1M396 837.5h2M475 837.5h1M479 837.5h1M481 837.5h1M483 837.5h10M498 837.5h6M505 837.5h3M509 837.5h1M511 837.5h1M513 837.5h1M392 838.5h1M396 838.5h2M400 838.5h1M475 838.5h1M481 838.5h1M483 838.5h2M488 838.5h4M493 838.5h1M500 838.5h3M505 838.5h1M507 838.5h5M513 838.5h1M378 839.5h1M381 839.5h1M392 839.5h2M395 839.5h1M399 839.5h1M448 839.5h1M464 839.5h1M476 839.5h2M479 839.5h3M485 839.5h1M487 839.5h4M493 839.5h4M498 839.5h2M501 839.5h1M503 839.5h1M506 839.5h3M390 840.5h1M393 840.5h1M400 840.5h1M452 840.5h1M479 840.5h3M483 840.5h6M490 840.5h1M493 840.5h1M495 840.5h2M499 840.5h1M507 840.5h1M509 840.5h5M348 841.5h1M391 841.5h2M396 841.5h1M475 841.5h1M478 841.5h2M481 841.5h1M484 841.5h5M490 841.5h2M494 841.5h3M498 841.5h1M500 841.5h1M502 841.5h6M510 841.5h3M392 842.5h1M394 842.5h1M478 842.5h2M483 842.5h2M489 842.5h3M493 842.5h2M497 842.5h1M499 842.5h2M502 842.5h1M504 842.5h4M509 842.5h1M389 843.5h1M391 843.5h3M437 843.5h1M468 843.5h1M471 843.5h1M474 843.5h2M477 843.5h1M479 843.5h3M483 843.5h3M487 843.5h1M490 843.5h3M496 843.5h1M498 843.5h2M502 843.5h3M506 843.5h3M510 843.5h2M513 843.5h1M386 844.5h3M390 844.5h2M451 844.5h1M476 844.5h2M480 844.5h2M485 844.5h6M492 844.5h2M496 844.5h2M499 844.5h2M502 844.5h1M504 844.5h1M506 844.5h8M374 845.5h1M386 845.5h2M389 845.5h1M391 845.5h2M471 845.5h3M475 845.5h2M480 845.5h3M484 845.5h2M487 845.5h3M493 845.5h1M496 845.5h1M498 845.5h3M505 845.5h1M508 845.5h2M511 845.5h3M386 846.5h1M388 846.5h1M390 846.5h1M447 846.5h1M477 846.5h4M483 846.5h8M492 846.5h5M499 846.5h1M501 846.5h3M505 846.5h2M512 846.5h1M380 847.5h1M386 847.5h4M473 847.5h1M478 847.5h1M480 847.5h3M484 847.5h1M486 847.5h1M488 847.5h1M490 847.5h2M493 847.5h4M498 847.5h1M500 847.5h4M505 847.5h1M507 847.5h7M385 848.5h1M387 848.5h2M390 848.5h1M469 848.5h1M474 848.5h3M478 848.5h6M485 848.5h2M490 848.5h1M492 848.5h1M494 848.5h1M496 848.5h5M504 848.5h8M385 849.5h4M439 849.5h1M470 849.5h1M478 849.5h2M481 849.5h5M488 849.5h1M491 849.5h5M497 849.5h5M504 849.5h2M507 849.5h5M377 850.5h1M385 850.5h1M390 850.5h1M432 850.5h1M466 850.5h1M469 850.5h1M473 850.5h1M477 850.5h3M482 850.5h3M489 850.5h5M495 850.5h1M497 850.5h3M502 850.5h1M504 850.5h3M508 850.5h3M513 850.5h1M382 851.5h1M385 851.5h1M468 851.5h1M473 851.5h2M476 851.5h2M479 851.5h1M484 851.5h5M490 851.5h1M492 851.5h2M495 851.5h2M498 851.5h1M500 851.5h1M502 851.5h1M506 851.5h5M371 852.5h1M384 852.5h1M386 852.5h1M449 852.5h1M460 852.5h1M466 852.5h1M471 852.5h1M473 852.5h5M479 852.5h1M481 852.5h2M484 852.5h7M492 852.5h2M495 852.5h1M497 852.5h6M504 852.5h3M508 852.5h6M381 853.5h1M458 853.5h1M460 853.5h1M470 853.5h1M472 853.5h4M479 853.5h1M482 853.5h3M486 853.5h2M489 853.5h1M493 853.5h1M495 853.5h2M498 853.5h9M508 853.5h4M381 854.5h1M383 854.5h1M385 854.5h2M457 854.5h1M466 854.5h1M470 854.5h1M472 854.5h7M482 854.5h2M490 854.5h1M494 854.5h9M505 854.5h2M508 854.5h2M511 854.5h2M380 855.5h1M382 855.5h4M440 855.5h1M462 855.5h1M468 855.5h1M471 855.5h1M474 855.5h2M479 855.5h4M485 855.5h1M487 855.5h4M492 855.5h5M498 855.5h4M505 855.5h1M508 855.5h1M510 855.5h1M375 856.5h1M380 856.5h1M382 856.5h1M469 856.5h1M471 856.5h2M477 856.5h5M483 856.5h1M485 856.5h1M487 856.5h3M491 856.5h1M493 856.5h2M496 856.5h1M498 856.5h2M501 856.5h2M504 856.5h3M509 856.5h1M511 856.5h2M377 857.5h1M381 857.5h1M438 857.5h1M456 857.5h1M468 857.5h1M473 857.5h1M475 857.5h1M477 857.5h1M484 857.5h2M489 857.5h2M493 857.5h2M496 857.5h2M499 857.5h1M501 857.5h1M503 857.5h1M505 857.5h2M511 857.5h2M376 858.5h6M447 858.5h2M463 858.5h1M470 858.5h3M474 858.5h2M478 858.5h1M481 858.5h1M483 858.5h1M485 858.5h2M489 858.5h1M491 858.5h2M494 858.5h1M497 858.5h1M500 858.5h1M502 858.5h3M506 858.5h1M509 858.5h2M512 858.5h1M373 859.5h1M375 859.5h1M380 859.5h1M418 859.5h1M464 859.5h3M470 859.5h1M474 859.5h1M479 859.5h1M482 859.5h1M484 859.5h1M492 859.5h2M499 859.5h1M355 860.5h1M374 860.5h2M377 860.5h1M465 860.5h1M469 860.5h1M471 860.5h1M477 860.5h1M480 860.5h1M483 860.5h2M488 860.5h1M490 860.5h1M492 860.5h1M497 860.5h1M499 860.5h2M505 860.5h2M509 860.5h1M513 860.5h1M374 861.5h4M444 861.5h1M451 861.5h1M472 861.5h2M477 861.5h1M481 861.5h2M497 861.5h1M510 861.5h1M359 862.5h1M373 862.5h3M377 862.5h2M432 862.5h1M438 862.5h1M446 862.5h1M449 862.5h2M470 862.5h1M477 862.5h1M479 862.5h1M493 862.5h1M495 862.5h1M503 862.5h1M505 862.5h1M371 863.5h2M375 863.5h1M438 863.5h1M442 863.5h1M449 863.5h1M451 863.5h1M456 863.5h1M463 863.5h1M468 863.5h1M470 863.5h1M477 863.5h1M481 863.5h1M487 863.5h2M490 863.5h1M495 863.5h1M498 863.5h1M503 863.5h1M506 863.5h1M510 863.5h1M371 864.5h4M437 864.5h1M443 864.5h1M473 864.5h1M476 864.5h2M482 864.5h1M487 864.5h1M489 864.5h1M497 864.5h1M511 864.5h2M372 865.5h2M375 865.5h1M410 865.5h1M422 865.5h1M426 865.5h1M439 865.5h1M443 865.5h1M463 865.5h1M468 865.5h1M470 865.5h1M475 865.5h2M490 865.5h1M499 865.5h1M508 865.5h1M510 865.5h1M359 866.5h1M368 866.5h1M372 866.5h1M434 866.5h1M444 866.5h1M460 866.5h4M472 866.5h2M481 866.5h1M491 866.5h1M502 866.5h1M366 867.5h1M369 867.5h1M371 867.5h1M400 867.5h1M420 867.5h1M440 867.5h1M445 867.5h1M473 867.5h1M476 867.5h1M479 867.5h2M489 867.5h1M495 867.5h1M366 868.5h1M371 868.5h2M437 868.5h1M452 868.5h1M459 868.5h1M471 868.5h1M481 868.5h1M484 868.5h1M363 869.5h1M367 869.5h2M370 869.5h2M373 869.5h1M395 869.5h1M402 869.5h1M426 869.5h1M447 869.5h2M450 869.5h1M454 869.5h1M471 869.5h1M484 869.5h1M488 869.5h1M506 869.5h1M511 869.5h1M369 870.5h2M419 870.5h1M426 870.5h1M454 870.5h1M472 870.5h1M503 870.5h1M367 871.5h3M429 871.5h1M439 871.5h1M449 871.5h1M453 871.5h1M461 871.5h1M465 871.5h1M475 871.5h1M486 871.5h1M501 871.5h1M364 872.5h1M366 872.5h4M405 872.5h1M409 872.5h1M416 872.5h1M436 872.5h1M438 872.5h1M445 872.5h1M448 872.5h2M453 872.5h2M456 872.5h1M461 872.5h1M471 872.5h1M491 872.5h1M493 872.5h1M366 873.5h1M370 873.5h1M373 873.5h1M431 873.5h1M451 873.5h1M493 873.5h1M366 874.5h1M369 874.5h1M431 874.5h1M436 874.5h1M452 874.5h1M455 874.5h1M465 874.5h1M475 874.5h1M508 874.5h1M416 875.5h1M427 875.5h1M439 875.5h1M443 875.5h1M447 875.5h1M449 875.5h1M452 875.5h1M455 875.5h3M464 875.5h1M466 875.5h1M468 875.5h1M407 876.5h1M409 876.5h1M420 876.5h1M427 876.5h1M430 876.5h2M439 876.5h1M458 876.5h1M487 876.5h1M411 877.5h2M417 877.5h1M426 877.5h1M433 877.5h1M439 877.5h1M442 877.5h1M445 877.5h1M455 877.5h1M462 877.5h2M482 877.5h1M491 877.5h1M502 877.5h1M397 878.5h1M404 878.5h1M416 878.5h1M459 878.5h2M379 879.5h1M395 879.5h1M412 879.5h1M417 879.5h2M434 879.5h1M437 879.5h1M440 879.5h1M443 879.5h1M464 879.5h1M475 879.5h1M489 879.5h2M513 879.5h1M419 880.5h1M429 880.5h1M436 880.5h1M438 880.5h1M443 880.5h1M445 880.5h1M453 880.5h1M465 880.5h1M469 880.5h1M484 880.5h1M510 880.5h1M410 881.5h1M417 881.5h1M419 881.5h1M434 881.5h2M440 881.5h1M444 881.5h1M465 881.5h1M469 881.5h1M492 881.5h1M494 881.5h1M384 882.5h1M390 882.5h1M427 882.5h1M433 882.5h1M437 882.5h1M441 882.5h2M456 882.5h1M458 882.5h1M468 882.5h1M478 882.5h1M495 882.5h1M497 882.5h1M501 882.5h1M390 883.5h1M395 883.5h1M432 883.5h1M439 883.5h1M449 883.5h1M458 883.5h1M467 883.5h1M469 883.5h1M471 883.5h1M485 883.5h1M331 884.5h1M376 884.5h1M380 884.5h1M385 884.5h1M402 884.5h1M410 884.5h1M419 884.5h1M427 884.5h1M430 884.5h2M433 884.5h2M447 884.5h1M456 884.5h1M469 884.5h1M490 884.5h1M398 885.5h1M400 885.5h1M408 885.5h1M417 885.5h1M432 885.5h1M434 885.5h1M441 885.5h1M456 885.5h1M463 885.5h1M466 885.5h1M490 885.5h1M333 886.5h1M387 886.5h1M390 886.5h1M397 886.5h1M403 886.5h1M407 886.5h2M419 886.5h1M449 886.5h1M466 886.5h1M476 886.5h1M494 886.5h1M402 887.5h1M407 887.5h1M418 887.5h1M428 887.5h1M435 887.5h1M445 887.5h2M448 887.5h1M453 887.5h1M507 887.5h1M512 887.5h1M388 888.5h1M402 888.5h1M405 888.5h1M408 888.5h1M410 888.5h1M413 888.5h1M419 888.5h1M428 888.5h2M432 888.5h2M440 888.5h1M445 888.5h2M498 888.5h1M505 888.5h1M381 889.5h1M394 889.5h1M398 889.5h1M417 889.5h1M425 889.5h1M432 889.5h1M437 889.5h1M442 889.5h1M446 889.5h1M449 889.5h1M454 889.5h1M470 889.5h1M388 890.5h1M397 890.5h1M404 890.5h1M406 890.5h2M417 890.5h1M422 890.5h1M428 890.5h2M433 890.5h1M435 890.5h1M453 890.5h1M462 890.5h1M472 890.5h1M474 890.5h1M368 891.5h1M388 891.5h1M391 891.5h1M397 891.5h1M399 891.5h1M403 891.5h1M407 891.5h1M415 891.5h1M422 891.5h1M432 891.5h2M449 891.5h1M454 891.5h1M380 892.5h1M390 892.5h1M392 892.5h1M402 892.5h1M410 892.5h1M417 892.5h1M425 892.5h1M434 892.5h1M458 892.5h1M480 892.5h1M341 893.5h1M379 893.5h1M382 893.5h1M384 893.5h1M388 893.5h1M397 893.5h2M409 893.5h2M413 893.5h1M424 893.5h1M485 893.5h1M382 894.5h1M393 894.5h1M397 894.5h1M403 894.5h1M408 894.5h1M413 894.5h1M418 894.5h1M431 894.5h1M443 894.5h1M449 894.5h2M456 894.5h1M378 895.5h2M398 895.5h1M404 895.5h1M406 895.5h1M412 895.5h1M415 895.5h2M419 895.5h1M436 895.5h1M444 895.5h2M462 895.5h1M474 895.5h1M489 895.5h1M378 896.5h1M384 896.5h3M392 896.5h1M394 896.5h2M407 896.5h1M413 896.5h1M417 896.5h1M441 896.5h1M443 896.5h1M447 896.5h1M372 897.5h1M413 897.5h1M417 897.5h1M420 897.5h1M428 897.5h1M432 897.5h1M434 897.5h2M456 897.5h1M460 897.5h1M478 897.5h1M358 898.5h1M364 898.5h1M371 898.5h1M376 898.5h1M384 898.5h1M405 898.5h2M437 898.5h2M463 898.5h1M466 898.5h1M479 898.5h1M499 898.5h1M350 899.5h1M373 899.5h1M379 899.5h1M381 899.5h1M387 899.5h1M394 899.5h1M398 899.5h1M410 899.5h1M413 899.5h1M426 899.5h1M433 899.5h1M449 899.5h1M489 899.5h1M503 899.5h1M375 900.5h1M382 900.5h1M388 900.5h2M395 900.5h1M400 900.5h1M439 900.5h1M507 900.5h1M348 901.5h1M394 901.5h1M397 901.5h1M400 901.5h1M423 901.5h1M427 901.5h1M433 901.5h1M507 901.5h1M512 901.5h1M370 902.5h1M373 902.5h1M375 902.5h1M382 902.5h1M385 902.5h3M396 902.5h1M409 902.5h1M477 902.5h1M371 903.5h1M380 903.5h1M394 903.5h1M396 903.5h1M400 903.5h3M406 903.5h1M408 903.5h1M442 903.5h1M462 903.5h1M490 903.5h1M365 904.5h1M371 904.5h1M376 904.5h1M383 904.5h1M388 904.5h3M399 904.5h1M457 904.5h1M471 904.5h1M357 905.5h1M364 905.5h1M367 905.5h1M372 905.5h1M374 905.5h1M380 905.5h1M392 905.5h1M397 905.5h2M403 905.5h2M408 905.5h1M411 905.5h1M414 905.5h1M431 905.5h1M434 905.5h1M350 906.5h1M356 906.5h1M370 906.5h1M372 906.5h3M385 906.5h1M388 906.5h2M395 906.5h1M397 906.5h2M400 906.5h1M405 906.5h1M409 906.5h1M419 906.5h1M429 906.5h1M453 906.5h1M496 906.5h1M510 906.5h1M363 907.5h1M365 907.5h1M373 907.5h1M388 907.5h1M390 907.5h1M397 907.5h2M400 907.5h1M405 907.5h1M410 907.5h1M420 907.5h1M482 907.5h1M360 908.5h1M368 908.5h1M378 908.5h1M387 908.5h1M389 908.5h2M395 908.5h1M402 908.5h2M411 908.5h1M420 908.5h2M471 908.5h1M505 908.5h1M356 909.5h1M361 909.5h1M363 909.5h1M366 909.5h2M370 909.5h1M372 909.5h1M374 909.5h1M381 909.5h1M401 909.5h1M420 909.5h1M459 909.5h1M359 910.5h1M371 910.5h1M374 910.5h1M376 910.5h1M378 910.5h1M381 910.5h1M385 910.5h1M387 910.5h1M391 910.5h1M456 910.5h1M355 911.5h1M358 911.5h1M368 911.5h2M373 911.5h2M377 911.5h1M381 911.5h2M386 911.5h1M390 911.5h2M394 911.5h1M409 911.5h1M419 911.5h1M432 911.5h1M470 911.5h1M472 911.5h1M480 911.5h1M352 912.5h1M358 912.5h1M360 912.5h2M363 912.5h1M369 912.5h4M374 912.5h1M384 912.5h1M403 912.5h1M475 912.5h1M338 913.5h1M349 913.5h1M357 913.5h1M359 913.5h1M368 913.5h1M370 913.5h1M372 913.5h1M381 913.5h2M389 913.5h1M404 913.5h1M406 913.5h1M458 913.5h1M470 913.5h1M352 914.5h1M355 914.5h1M357 914.5h2M362 914.5h1M364 914.5h2M367 914.5h1M381 914.5h1M384 914.5h1M396 914.5h1M398 914.5h2M407 914.5h2M410 914.5h1M473 914.5h1M497 914.5h1M344 915.5h1M348 915.5h3M354 915.5h1M357 915.5h1M359 915.5h2M363 915.5h3M370 915.5h1M375 915.5h1M377 915.5h1M383 915.5h1M390 915.5h1M410 915.5h1M433 915.5h1M436 915.5h1M345 916.5h1M350 916.5h3M354 916.5h1M357 916.5h4M362 916.5h4M367 916.5h1M371 916.5h3M379 916.5h3M383 916.5h1M397 916.5h1M406 916.5h1M414 916.5h1M416 916.5h1M437 916.5h1M457 916.5h1M500 916.5h1M344 917.5h2M347 917.5h3M351 917.5h4M358 917.5h1M361 917.5h2M364 917.5h1M368 917.5h1M370 917.5h1M384 917.5h1M387 917.5h1M397 917.5h1M436 917.5h1M438 917.5h1M476 917.5h1M486 917.5h1M497 917.5h1M343 918.5h1M345 918.5h14M360 918.5h1M362 918.5h5M372 918.5h1M389 918.5h2M396 918.5h1M464 918.5h1M341 919.5h12M354 919.5h2M357 919.5h2M360 919.5h1M362 919.5h3M368 919.5h1M375 919.5h1M382 919.5h1M391 919.5h1M398 919.5h1M400 919.5h1M452 919.5h1M468 919.5h1M334 920.5h1M337 920.5h1M339 920.5h7M347 920.5h8M356 920.5h3M364 920.5h1M367 920.5h3M377 920.5h1M380 920.5h1M385 920.5h2M334 921.5h20M355 921.5h2M358 921.5h4M363 921.5h1M365 921.5h1M368 921.5h3M374 921.5h1M377 921.5h1M383 921.5h1M394 921.5h1M428 921.5h1M459 921.5h1M332 922.5h20M353 922.5h1M355 922.5h6M362 922.5h2M365 922.5h1M407 922.5h1M419 922.5h1M430 922.5h1M435 922.5h1M462 922.5h1M329 923.5h14M344 923.5h1M346 923.5h3M350 923.5h2M353 923.5h2M356 923.5h2M359 923.5h1M363 923.5h1M366 923.5h1M372 923.5h1M378 923.5h1M384 923.5h1M386 923.5h1M390 923.5h1M402 923.5h1" stroke="#000" stroke-width="1" fill="none" filter="url(#soft)"/>
<rect x="324.6" y="737" width="190.0" height="189.9" fill="none" stroke="#1a1a1a" stroke-width="1.4"/>
<line x1="319.60" y1="926.70" x2="324.60" y2="926.70" stroke="#1a1a1a" stroke-width="1.3"/>
<text x="315.60" y="930.00" font-size="9.5" text-anchor="end" font-weight="normal" fill="#1a1a1a" stroke="#1a1a1a" stroke-width="0.2">0</text>
<line x1="326.00" y1="926.90" x2="326.00" y2="931.90" stroke="#1a1a1a" stroke-width="1.3"/>
<text x="326.00" y="942.10" font-size="9.5" text-anchor="middle" font-weight="normal" fill="#1a1a1a" stroke="#1a1a1a" stroke-width="0.2">0</text>
<line x1="322.80" y1="915.14" x2="324.60" y2="915.14" stroke="#1a1a1a" stroke-width="1.0"/>
<line x1="337.43" y1="926.90" x2="337.43" y2="928.70" stroke="#1a1a1a" stroke-width="1.0"/>
<line x1="322.80" y1="903.58" x2="324.60" y2="903.58" stroke="#1a1a1a" stroke-width="1.0"/>
<line x1="348.85" y1="926.90" x2="348.85" y2="928.70" stroke="#1a1a1a" stroke-width="1.0"/>
<line x1="322.80" y1="892.01" x2="324.60" y2="892.01" stroke="#1a1a1a" stroke-width="1.0"/>
<line x1="360.27" y1="926.90" x2="360.27" y2="928.70" stroke="#1a1a1a" stroke-width="1.0"/>
<line x1="319.60" y1="880.45" x2="324.60" y2="880.45" stroke="#1a1a1a" stroke-width="1.3"/>
<text x="315.60" y="883.75" font-size="9.5" text-anchor="end" font-weight="normal" fill="#1a1a1a" textLength="18.2" lengthAdjust="spacingAndGlyphs" stroke="#1a1a1a" stroke-width="0.2">1000</text>
<line x1="371.70" y1="926.90" x2="371.70" y2="931.90" stroke="#1a1a1a" stroke-width="1.3"/>
<text x="371.70" y="942.10" font-size="9.5" text-anchor="middle" font-weight="normal" fill="#1a1a1a" textLength="19.2" lengthAdjust="spacingAndGlyphs" stroke="#1a1a1a" stroke-width="0.2">1000</text>
<line x1="322.80" y1="868.89" x2="324.60" y2="868.89" stroke="#1a1a1a" stroke-width="1.0"/>
<line x1="383.12" y1="926.90" x2="383.12" y2="928.70" stroke="#1a1a1a" stroke-width="1.0"/>
<line x1="322.80" y1="857.33" x2="324.60" y2="857.33" stroke="#1a1a1a" stroke-width="1.0"/>
<line x1="394.55" y1="926.90" x2="394.55" y2="928.70" stroke="#1a1a1a" stroke-width="1.0"/>
<line x1="322.80" y1="845.76" x2="324.60" y2="845.76" stroke="#1a1a1a" stroke-width="1.0"/>
<line x1="405.98" y1="926.90" x2="405.98" y2="928.70" stroke="#1a1a1a" stroke-width="1.0"/>
<line x1="319.60" y1="834.20" x2="324.60" y2="834.20" stroke="#1a1a1a" stroke-width="1.3"/>
<text x="315.60" y="837.50" font-size="9.5" text-anchor="end" font-weight="normal" fill="#1a1a1a" textLength="18.2" lengthAdjust="spacingAndGlyphs" stroke="#1a1a1a" stroke-width="0.2">2000</text>
<line x1="417.40" y1="926.90" x2="417.40" y2="931.90" stroke="#1a1a1a" stroke-width="1.3"/>
<text x="417.40" y="942.10" font-size="9.5" text-anchor="middle" font-weight="normal" fill="#1a1a1a" textLength="19.2" lengthAdjust="spacingAndGlyphs" stroke="#1a1a1a" stroke-width="0.2">2000</text>
<line x1="322.80" y1="822.64" x2="324.60" y2="822.64" stroke="#1a1a1a" stroke-width="1.0"/>
<line x1="428.82" y1="926.90" x2="428.82" y2="928.70" stroke="#1a1a1a" stroke-width="1.0"/>
<line x1="322.80" y1="811.08" x2="324.60" y2="811.08" stroke="#1a1a1a" stroke-width="1.0"/>
<line x1="440.25" y1="926.90" x2="440.25" y2="928.70" stroke="#1a1a1a" stroke-width="1.0"/>
<line x1="322.80" y1="799.51" x2="324.60" y2="799.51" stroke="#1a1a1a" stroke-width="1.0"/>
<line x1="451.68" y1="926.90" x2="451.68" y2="928.70" stroke="#1a1a1a" stroke-width="1.0"/>
<line x1="319.60" y1="787.95" x2="324.60" y2="787.95" stroke="#1a1a1a" stroke-width="1.3"/>
<text x="315.60" y="791.25" font-size="9.5" text-anchor="end" font-weight="normal" fill="#1a1a1a" textLength="18.2" lengthAdjust="spacingAndGlyphs" stroke="#1a1a1a" stroke-width="0.2">3000</text>
<line x1="463.10" y1="926.90" x2="463.10" y2="931.90" stroke="#1a1a1a" stroke-width="1.3"/>
<text x="463.10" y="942.10" font-size="9.5" text-anchor="middle" font-weight="normal" fill="#1a1a1a" textLength="19.2" lengthAdjust="spacingAndGlyphs" stroke="#1a1a1a" stroke-width="0.2">3000</text>
<line x1="322.80" y1="776.39" x2="324.60" y2="776.39" stroke="#1a1a1a" stroke-width="1.0"/>
<line x1="474.52" y1="926.90" x2="474.52" y2="928.70" stroke="#1a1a1a" stroke-width="1.0"/>
<line x1="322.80" y1="764.83" x2="324.60" y2="764.83" stroke="#1a1a1a" stroke-width="1.0"/>
<line x1="485.95" y1="926.90" x2="485.95" y2="928.70" stroke="#1a1a1a" stroke-width="1.0"/>
<line x1="322.80" y1="753.26" x2="324.60" y2="753.26" stroke="#1a1a1a" stroke-width="1.0"/>
<line x1="497.38" y1="926.90" x2="497.38" y2="928.70" stroke="#1a1a1a" stroke-width="1.0"/>
<line x1="319.60" y1="741.70" x2="324.60" y2="741.70" stroke="#1a1a1a" stroke-width="1.3"/>
<text x="315.60" y="745.00" font-size="9.5" text-anchor="end" font-weight="normal" fill="#1a1a1a" textLength="18.2" lengthAdjust="spacingAndGlyphs" stroke="#1a1a1a" stroke-width="0.2">4000</text>
<line x1="508.80" y1="926.90" x2="508.80" y2="931.90" stroke="#1a1a1a" stroke-width="1.3"/>
<text x="508.80" y="942.10" font-size="9.5" text-anchor="middle" font-weight="normal" fill="#1a1a1a" textLength="19.2" lengthAdjust="spacingAndGlyphs" stroke="#1a1a1a" stroke-width="0.2">4000</text>
<polygon points="350.3,887.4 352.4,869.6 430.7,777.4 447.6,797.1 367.2,883.2" fill="none" stroke="#222" stroke-width="1.1"/>
<text x="378.60" y="810.60" font-size="11.5" text-anchor="middle" font-weight="normal" fill="#1a1a1a" textLength="23.0" lengthAdjust="spacingAndGlyphs" stroke="#1a1a1a" stroke-width="0.45">0.18</text>
<text x="417.00" y="720.40" font-size="11" text-anchor="middle" font-weight="normal" fill="#1a1a1a" textLength="43.0" lengthAdjust="spacingAndGlyphs" stroke="#1a1a1a" stroke-width="0.4">p53 +/m</text>
<text x="425.60" y="963.20" font-size="11" text-anchor="middle" font-weight="normal" fill="#1a1a1a" textLength="68.4" lengthAdjust="spacingAndGlyphs" stroke="#1a1a1a" stroke-width="0.45">Hoechst-Red</text>
<text x="0" y="0" font-size="11" text-anchor="middle" fill="#1a1a1a" stroke="#1a1a1a" stroke-width="0.45" textLength="69" lengthAdjust="spacingAndGlyphs" transform="translate(288.5 825.6) rotate(-90)">Hoechst-Blue</text>
<text x="1.20" y="718.20" font-size="32" text-anchor="start" font-weight="bold" fill="#000">C</text>
</svg>
</body></html>
